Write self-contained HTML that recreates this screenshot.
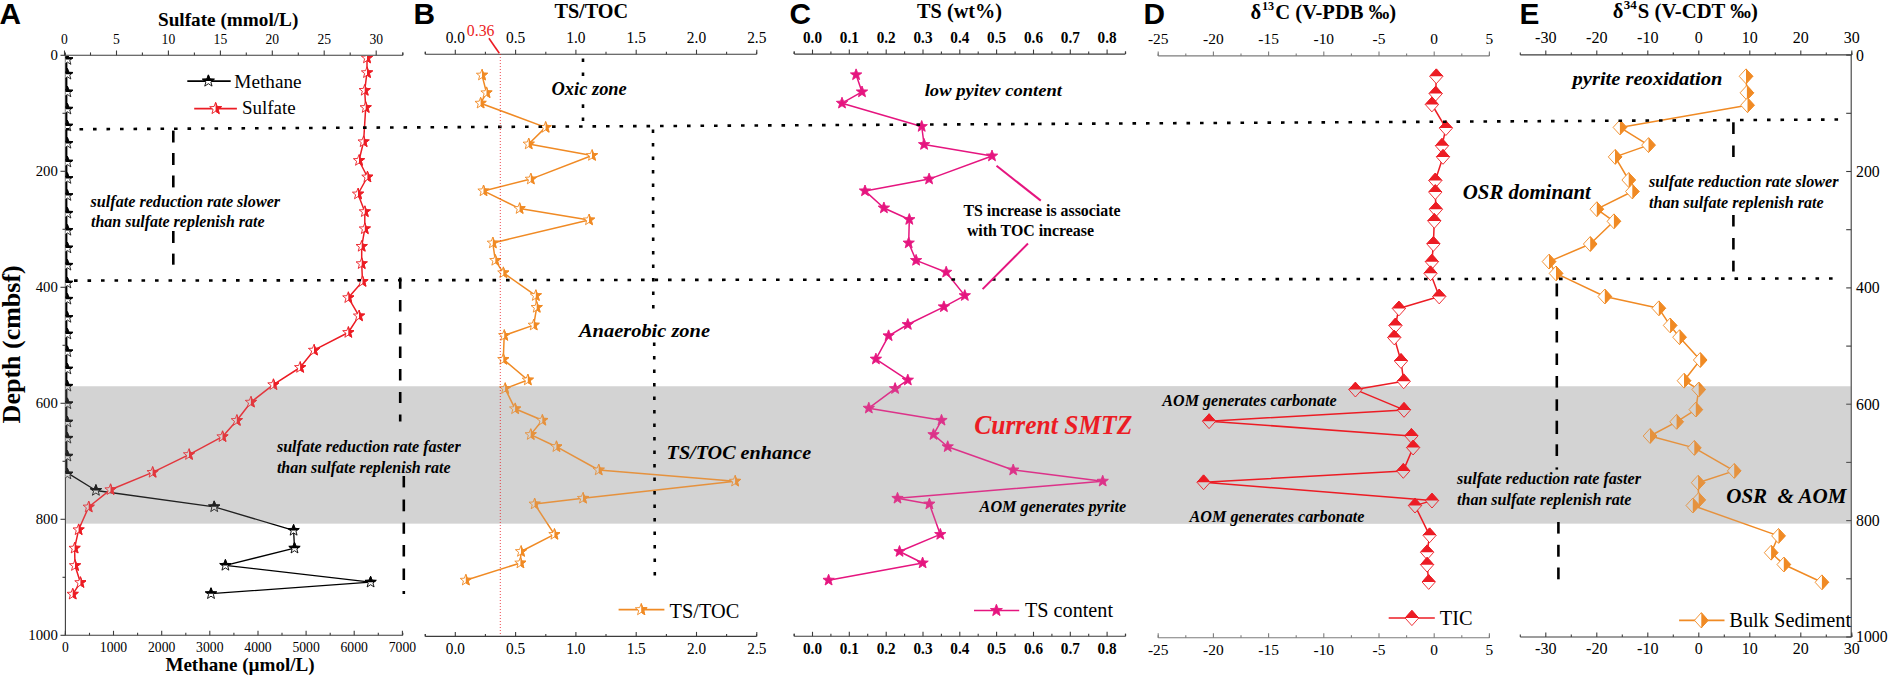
<!DOCTYPE html>
<html><head><meta charset="utf-8"><title>Figure</title>
<style>html,body{margin:0;padding:0;background:#fff;} svg{display:block;} text{white-space:pre;}</style>
</head><body>
<svg width="1890" height="677" viewBox="0 0 1890 677"><rect x="0" y="0" width="1890" height="677" fill="#fff"/>
<rect x="65.5" y="386.3" width="1785.3" height="137.3" fill="#d9d9d9"/>
<rect x="1140" y="386.3" width="360" height="137.3" fill="#d3d3d3"/>
<line x1="65.4" y1="55.3" x2="402.8" y2="55.3" stroke="#3c3c3c" stroke-width="1.1"/>
<line x1="64.5" y1="55.3" x2="64.5" y2="50.5" stroke="#3c3c3c" stroke-width="1.1"/>
<line x1="116.5" y1="55.3" x2="116.5" y2="50.5" stroke="#3c3c3c" stroke-width="1.1"/>
<line x1="168.4" y1="55.3" x2="168.4" y2="50.5" stroke="#3c3c3c" stroke-width="1.1"/>
<line x1="220.4" y1="55.3" x2="220.4" y2="50.5" stroke="#3c3c3c" stroke-width="1.1"/>
<line x1="272.3" y1="55.3" x2="272.3" y2="50.5" stroke="#3c3c3c" stroke-width="1.1"/>
<line x1="324.2" y1="55.3" x2="324.2" y2="50.5" stroke="#3c3c3c" stroke-width="1.1"/>
<line x1="376.2" y1="55.3" x2="376.2" y2="50.5" stroke="#3c3c3c" stroke-width="1.1"/>
<line x1="90.5" y1="55.3" x2="90.5" y2="52.4" stroke="#3c3c3c" stroke-width="1.1"/>
<line x1="142.4" y1="55.3" x2="142.4" y2="52.4" stroke="#3c3c3c" stroke-width="1.1"/>
<line x1="194.4" y1="55.3" x2="194.4" y2="52.4" stroke="#3c3c3c" stroke-width="1.1"/>
<line x1="246.3" y1="55.3" x2="246.3" y2="52.4" stroke="#3c3c3c" stroke-width="1.1"/>
<line x1="298.3" y1="55.3" x2="298.3" y2="52.4" stroke="#3c3c3c" stroke-width="1.1"/>
<line x1="350.2" y1="55.3" x2="350.2" y2="52.4" stroke="#3c3c3c" stroke-width="1.1"/>
<line x1="65.4" y1="55.3" x2="65.4" y2="52.4" stroke="#3c3c3c" stroke-width="1.1"/>
<line x1="402.8" y1="55.3" x2="402.8" y2="52.4" stroke="#3c3c3c" stroke-width="1.1"/>
<line x1="402.8" y1="55.3" x2="402.8" y2="52.6" stroke="#3c3c3c" stroke-width="1.1"/>
<text x="64.5" y="44.0" font-family="'Liberation Serif','Times New Roman',serif" font-size="14.6" font-weight="normal" font-style="normal" fill="#000" text-anchor="middle" textLength="6.8" lengthAdjust="spacingAndGlyphs">0</text>
<text x="116.5" y="44.0" font-family="'Liberation Serif','Times New Roman',serif" font-size="14.6" font-weight="normal" font-style="normal" fill="#000" text-anchor="middle" textLength="6.8" lengthAdjust="spacingAndGlyphs">5</text>
<text x="168.4" y="44.0" font-family="'Liberation Serif','Times New Roman',serif" font-size="14.6" font-weight="normal" font-style="normal" fill="#000" text-anchor="middle" textLength="13.6" lengthAdjust="spacingAndGlyphs">10</text>
<text x="220.4" y="44.0" font-family="'Liberation Serif','Times New Roman',serif" font-size="14.6" font-weight="normal" font-style="normal" fill="#000" text-anchor="middle" textLength="13.6" lengthAdjust="spacingAndGlyphs">15</text>
<text x="272.3" y="44.0" font-family="'Liberation Serif','Times New Roman',serif" font-size="14.6" font-weight="normal" font-style="normal" fill="#000" text-anchor="middle" textLength="13.6" lengthAdjust="spacingAndGlyphs">20</text>
<text x="324.2" y="44.0" font-family="'Liberation Serif','Times New Roman',serif" font-size="14.6" font-weight="normal" font-style="normal" fill="#000" text-anchor="middle" textLength="13.6" lengthAdjust="spacingAndGlyphs">25</text>
<text x="376.2" y="44.0" font-family="'Liberation Serif','Times New Roman',serif" font-size="14.6" font-weight="normal" font-style="normal" fill="#000" text-anchor="middle" textLength="13.6" lengthAdjust="spacingAndGlyphs">30</text>
<line x1="65.4" y1="635.3" x2="402.8" y2="635.3" stroke="#3c3c3c" stroke-width="1.1"/>
<line x1="65.4" y1="635.3" x2="65.4" y2="630.8" stroke="#3c3c3c" stroke-width="1.1"/>
<line x1="113.5" y1="635.3" x2="113.5" y2="630.8" stroke="#3c3c3c" stroke-width="1.1"/>
<line x1="161.7" y1="635.3" x2="161.7" y2="630.8" stroke="#3c3c3c" stroke-width="1.1"/>
<line x1="209.8" y1="635.3" x2="209.8" y2="630.8" stroke="#3c3c3c" stroke-width="1.1"/>
<line x1="258.0" y1="635.3" x2="258.0" y2="630.8" stroke="#3c3c3c" stroke-width="1.1"/>
<line x1="306.1" y1="635.3" x2="306.1" y2="630.8" stroke="#3c3c3c" stroke-width="1.1"/>
<line x1="354.2" y1="635.3" x2="354.2" y2="630.8" stroke="#3c3c3c" stroke-width="1.1"/>
<line x1="402.4" y1="635.3" x2="402.4" y2="630.8" stroke="#3c3c3c" stroke-width="1.1"/>
<line x1="89.5" y1="635.3" x2="89.5" y2="632.8" stroke="#3c3c3c" stroke-width="1.1"/>
<line x1="137.6" y1="635.3" x2="137.6" y2="632.8" stroke="#3c3c3c" stroke-width="1.1"/>
<line x1="185.8" y1="635.3" x2="185.8" y2="632.8" stroke="#3c3c3c" stroke-width="1.1"/>
<line x1="233.9" y1="635.3" x2="233.9" y2="632.8" stroke="#3c3c3c" stroke-width="1.1"/>
<line x1="282.0" y1="635.3" x2="282.0" y2="632.8" stroke="#3c3c3c" stroke-width="1.1"/>
<line x1="330.2" y1="635.3" x2="330.2" y2="632.8" stroke="#3c3c3c" stroke-width="1.1"/>
<line x1="378.3" y1="635.3" x2="378.3" y2="632.8" stroke="#3c3c3c" stroke-width="1.1"/>
<line x1="65.4" y1="635.3" x2="65.4" y2="632.8" stroke="#3c3c3c" stroke-width="1.1"/>
<line x1="402.8" y1="635.3" x2="402.8" y2="632.8" stroke="#3c3c3c" stroke-width="1.1"/>
<text x="65.4" y="652.1" font-family="'Liberation Serif','Times New Roman',serif" font-size="14.8" font-weight="normal" font-style="normal" fill="#000" text-anchor="middle" textLength="6.8" lengthAdjust="spacingAndGlyphs">0</text>
<text x="113.5" y="652.1" font-family="'Liberation Serif','Times New Roman',serif" font-size="14.8" font-weight="normal" font-style="normal" fill="#000" text-anchor="middle" textLength="27.4" lengthAdjust="spacingAndGlyphs">1000</text>
<text x="161.7" y="652.1" font-family="'Liberation Serif','Times New Roman',serif" font-size="14.8" font-weight="normal" font-style="normal" fill="#000" text-anchor="middle" textLength="27.4" lengthAdjust="spacingAndGlyphs">2000</text>
<text x="209.8" y="652.1" font-family="'Liberation Serif','Times New Roman',serif" font-size="14.8" font-weight="normal" font-style="normal" fill="#000" text-anchor="middle" textLength="27.4" lengthAdjust="spacingAndGlyphs">3000</text>
<text x="258.0" y="652.1" font-family="'Liberation Serif','Times New Roman',serif" font-size="14.8" font-weight="normal" font-style="normal" fill="#000" text-anchor="middle" textLength="27.4" lengthAdjust="spacingAndGlyphs">4000</text>
<text x="306.1" y="652.1" font-family="'Liberation Serif','Times New Roman',serif" font-size="14.8" font-weight="normal" font-style="normal" fill="#000" text-anchor="middle" textLength="27.4" lengthAdjust="spacingAndGlyphs">5000</text>
<text x="354.2" y="652.1" font-family="'Liberation Serif','Times New Roman',serif" font-size="14.8" font-weight="normal" font-style="normal" fill="#000" text-anchor="middle" textLength="27.4" lengthAdjust="spacingAndGlyphs">6000</text>
<text x="402.4" y="652.1" font-family="'Liberation Serif','Times New Roman',serif" font-size="14.8" font-weight="normal" font-style="normal" fill="#000" text-anchor="middle" textLength="27.4" lengthAdjust="spacingAndGlyphs">7000</text>
<line x1="65.4" y1="55.3" x2="65.4" y2="635.3" stroke="#3c3c3c" stroke-width="1.1"/>
<line x1="60.5" y1="55.3" x2="65.4" y2="55.3" stroke="#3c3c3c" stroke-width="1.1"/>
<text x="57.8" y="60.2" font-family="'Liberation Serif','Times New Roman',serif" font-size="14.5" font-weight="normal" font-style="normal" fill="#000" text-anchor="end" textLength="7.4" lengthAdjust="spacingAndGlyphs">0</text>
<line x1="60.5" y1="171.3" x2="65.4" y2="171.3" stroke="#3c3c3c" stroke-width="1.1"/>
<text x="57.8" y="176.2" font-family="'Liberation Serif','Times New Roman',serif" font-size="14.5" font-weight="normal" font-style="normal" fill="#000" text-anchor="end" textLength="22.1" lengthAdjust="spacingAndGlyphs">200</text>
<line x1="60.5" y1="287.3" x2="65.4" y2="287.3" stroke="#3c3c3c" stroke-width="1.1"/>
<text x="57.8" y="292.2" font-family="'Liberation Serif','Times New Roman',serif" font-size="14.5" font-weight="normal" font-style="normal" fill="#000" text-anchor="end" textLength="22.1" lengthAdjust="spacingAndGlyphs">400</text>
<line x1="60.5" y1="403.3" x2="65.4" y2="403.3" stroke="#3c3c3c" stroke-width="1.1"/>
<text x="57.8" y="408.2" font-family="'Liberation Serif','Times New Roman',serif" font-size="14.5" font-weight="normal" font-style="normal" fill="#000" text-anchor="end" textLength="22.1" lengthAdjust="spacingAndGlyphs">600</text>
<line x1="60.5" y1="519.3" x2="65.4" y2="519.3" stroke="#3c3c3c" stroke-width="1.1"/>
<text x="57.8" y="524.2" font-family="'Liberation Serif','Times New Roman',serif" font-size="14.5" font-weight="normal" font-style="normal" fill="#000" text-anchor="end" textLength="22.1" lengthAdjust="spacingAndGlyphs">800</text>
<line x1="60.5" y1="635.3" x2="65.4" y2="635.3" stroke="#3c3c3c" stroke-width="1.1"/>
<text x="57.8" y="640.2" font-family="'Liberation Serif','Times New Roman',serif" font-size="14.5" font-weight="normal" font-style="normal" fill="#000" text-anchor="end" textLength="29.5" lengthAdjust="spacingAndGlyphs">1000</text>
<line x1="62.5" y1="113.3" x2="65.4" y2="113.3" stroke="#3c3c3c" stroke-width="1.1"/>
<line x1="62.5" y1="229.3" x2="65.4" y2="229.3" stroke="#3c3c3c" stroke-width="1.1"/>
<line x1="62.5" y1="345.3" x2="65.4" y2="345.3" stroke="#3c3c3c" stroke-width="1.1"/>
<line x1="62.5" y1="461.3" x2="65.4" y2="461.3" stroke="#3c3c3c" stroke-width="1.1"/>
<line x1="62.5" y1="577.3" x2="65.4" y2="577.3" stroke="#3c3c3c" stroke-width="1.1"/>
<line x1="425.4" y1="54.2" x2="756.5" y2="54.2" stroke="#3c3c3c" stroke-width="1.1"/>
<line x1="455.3" y1="54.2" x2="455.3" y2="49.7" stroke="#3c3c3c" stroke-width="1.1"/>
<line x1="515.6" y1="54.2" x2="515.6" y2="49.7" stroke="#3c3c3c" stroke-width="1.1"/>
<line x1="575.9" y1="54.2" x2="575.9" y2="49.7" stroke="#3c3c3c" stroke-width="1.1"/>
<line x1="636.2" y1="54.2" x2="636.2" y2="49.7" stroke="#3c3c3c" stroke-width="1.1"/>
<line x1="696.5" y1="54.2" x2="696.5" y2="49.7" stroke="#3c3c3c" stroke-width="1.1"/>
<line x1="756.8" y1="54.2" x2="756.8" y2="49.7" stroke="#3c3c3c" stroke-width="1.1"/>
<line x1="425.2" y1="54.2" x2="425.2" y2="51.7" stroke="#3c3c3c" stroke-width="1.1"/>
<line x1="485.4" y1="54.2" x2="485.4" y2="51.7" stroke="#3c3c3c" stroke-width="1.1"/>
<line x1="545.8" y1="54.2" x2="545.8" y2="51.7" stroke="#3c3c3c" stroke-width="1.1"/>
<line x1="606.0" y1="54.2" x2="606.0" y2="51.7" stroke="#3c3c3c" stroke-width="1.1"/>
<line x1="666.4" y1="54.2" x2="666.4" y2="51.7" stroke="#3c3c3c" stroke-width="1.1"/>
<line x1="726.6" y1="54.2" x2="726.6" y2="51.7" stroke="#3c3c3c" stroke-width="1.1"/>
<line x1="425.4" y1="54.2" x2="425.4" y2="51.7" stroke="#3c3c3c" stroke-width="1.1"/>
<line x1="756.5" y1="54.2" x2="756.5" y2="51.7" stroke="#3c3c3c" stroke-width="1.1"/>
<line x1="425.4" y1="636.4" x2="756.5" y2="636.4" stroke="#3c3c3c" stroke-width="1.1"/>
<line x1="455.3" y1="636.4" x2="455.3" y2="631.9" stroke="#3c3c3c" stroke-width="1.1"/>
<line x1="515.6" y1="636.4" x2="515.6" y2="631.9" stroke="#3c3c3c" stroke-width="1.1"/>
<line x1="575.9" y1="636.4" x2="575.9" y2="631.9" stroke="#3c3c3c" stroke-width="1.1"/>
<line x1="636.2" y1="636.4" x2="636.2" y2="631.9" stroke="#3c3c3c" stroke-width="1.1"/>
<line x1="696.5" y1="636.4" x2="696.5" y2="631.9" stroke="#3c3c3c" stroke-width="1.1"/>
<line x1="756.8" y1="636.4" x2="756.8" y2="631.9" stroke="#3c3c3c" stroke-width="1.1"/>
<line x1="425.2" y1="636.4" x2="425.2" y2="633.9" stroke="#3c3c3c" stroke-width="1.1"/>
<line x1="485.4" y1="636.4" x2="485.4" y2="633.9" stroke="#3c3c3c" stroke-width="1.1"/>
<line x1="545.8" y1="636.4" x2="545.8" y2="633.9" stroke="#3c3c3c" stroke-width="1.1"/>
<line x1="606.0" y1="636.4" x2="606.0" y2="633.9" stroke="#3c3c3c" stroke-width="1.1"/>
<line x1="666.4" y1="636.4" x2="666.4" y2="633.9" stroke="#3c3c3c" stroke-width="1.1"/>
<line x1="726.6" y1="636.4" x2="726.6" y2="633.9" stroke="#3c3c3c" stroke-width="1.1"/>
<line x1="425.4" y1="636.4" x2="425.4" y2="633.9" stroke="#3c3c3c" stroke-width="1.1"/>
<line x1="756.5" y1="636.4" x2="756.5" y2="633.9" stroke="#3c3c3c" stroke-width="1.1"/>
<text x="455.3" y="42.7" font-family="'Liberation Serif','Times New Roman',serif" font-size="16.5" font-weight="normal" font-style="normal" fill="#000" text-anchor="middle" textLength="19.3" lengthAdjust="spacingAndGlyphs">0.0</text>
<text x="455.3" y="653.5" font-family="'Liberation Serif','Times New Roman',serif" font-size="16" font-weight="normal" font-style="normal" fill="#000" text-anchor="middle" textLength="19.1" lengthAdjust="spacingAndGlyphs">0.0</text>
<text x="515.6" y="42.7" font-family="'Liberation Serif','Times New Roman',serif" font-size="16.5" font-weight="normal" font-style="normal" fill="#000" text-anchor="middle" textLength="19.3" lengthAdjust="spacingAndGlyphs">0.5</text>
<text x="515.6" y="653.5" font-family="'Liberation Serif','Times New Roman',serif" font-size="16" font-weight="normal" font-style="normal" fill="#000" text-anchor="middle" textLength="19.1" lengthAdjust="spacingAndGlyphs">0.5</text>
<text x="575.9" y="42.7" font-family="'Liberation Serif','Times New Roman',serif" font-size="16.5" font-weight="normal" font-style="normal" fill="#000" text-anchor="middle" textLength="19.3" lengthAdjust="spacingAndGlyphs">1.0</text>
<text x="575.9" y="653.5" font-family="'Liberation Serif','Times New Roman',serif" font-size="16" font-weight="normal" font-style="normal" fill="#000" text-anchor="middle" textLength="19.1" lengthAdjust="spacingAndGlyphs">1.0</text>
<text x="636.2" y="42.7" font-family="'Liberation Serif','Times New Roman',serif" font-size="16.5" font-weight="normal" font-style="normal" fill="#000" text-anchor="middle" textLength="19.3" lengthAdjust="spacingAndGlyphs">1.5</text>
<text x="636.2" y="653.5" font-family="'Liberation Serif','Times New Roman',serif" font-size="16" font-weight="normal" font-style="normal" fill="#000" text-anchor="middle" textLength="19.1" lengthAdjust="spacingAndGlyphs">1.5</text>
<text x="696.5" y="42.7" font-family="'Liberation Serif','Times New Roman',serif" font-size="16.5" font-weight="normal" font-style="normal" fill="#000" text-anchor="middle" textLength="19.3" lengthAdjust="spacingAndGlyphs">2.0</text>
<text x="696.5" y="653.5" font-family="'Liberation Serif','Times New Roman',serif" font-size="16" font-weight="normal" font-style="normal" fill="#000" text-anchor="middle" textLength="19.1" lengthAdjust="spacingAndGlyphs">2.0</text>
<text x="756.8" y="42.7" font-family="'Liberation Serif','Times New Roman',serif" font-size="16.5" font-weight="normal" font-style="normal" fill="#000" text-anchor="middle" textLength="19.3" lengthAdjust="spacingAndGlyphs">2.5</text>
<text x="756.8" y="653.5" font-family="'Liberation Serif','Times New Roman',serif" font-size="16" font-weight="normal" font-style="normal" fill="#000" text-anchor="middle" textLength="19.1" lengthAdjust="spacingAndGlyphs">2.5</text>
<line x1="794.3" y1="54.1" x2="1125.4" y2="54.1" stroke="#3c3c3c" stroke-width="1.1"/>
<line x1="812.5" y1="54.1" x2="812.5" y2="49.6" stroke="#3c3c3c" stroke-width="1.1"/>
<line x1="849.3" y1="54.1" x2="849.3" y2="49.6" stroke="#3c3c3c" stroke-width="1.1"/>
<line x1="886.2" y1="54.1" x2="886.2" y2="49.6" stroke="#3c3c3c" stroke-width="1.1"/>
<line x1="923.0" y1="54.1" x2="923.0" y2="49.6" stroke="#3c3c3c" stroke-width="1.1"/>
<line x1="959.8" y1="54.1" x2="959.8" y2="49.6" stroke="#3c3c3c" stroke-width="1.1"/>
<line x1="996.6" y1="54.1" x2="996.6" y2="49.6" stroke="#3c3c3c" stroke-width="1.1"/>
<line x1="1033.5" y1="54.1" x2="1033.5" y2="49.6" stroke="#3c3c3c" stroke-width="1.1"/>
<line x1="1070.3" y1="54.1" x2="1070.3" y2="49.6" stroke="#3c3c3c" stroke-width="1.1"/>
<line x1="1107.1" y1="54.1" x2="1107.1" y2="49.6" stroke="#3c3c3c" stroke-width="1.1"/>
<line x1="794.1" y1="54.1" x2="794.1" y2="51.6" stroke="#3c3c3c" stroke-width="1.1"/>
<line x1="830.9" y1="54.1" x2="830.9" y2="51.6" stroke="#3c3c3c" stroke-width="1.1"/>
<line x1="867.7" y1="54.1" x2="867.7" y2="51.6" stroke="#3c3c3c" stroke-width="1.1"/>
<line x1="904.6" y1="54.1" x2="904.6" y2="51.6" stroke="#3c3c3c" stroke-width="1.1"/>
<line x1="941.4" y1="54.1" x2="941.4" y2="51.6" stroke="#3c3c3c" stroke-width="1.1"/>
<line x1="978.2" y1="54.1" x2="978.2" y2="51.6" stroke="#3c3c3c" stroke-width="1.1"/>
<line x1="1015.1" y1="54.1" x2="1015.1" y2="51.6" stroke="#3c3c3c" stroke-width="1.1"/>
<line x1="1051.9" y1="54.1" x2="1051.9" y2="51.6" stroke="#3c3c3c" stroke-width="1.1"/>
<line x1="1088.7" y1="54.1" x2="1088.7" y2="51.6" stroke="#3c3c3c" stroke-width="1.1"/>
<line x1="1125.6" y1="54.1" x2="1125.6" y2="51.6" stroke="#3c3c3c" stroke-width="1.1"/>
<line x1="794.3" y1="54.1" x2="794.3" y2="51.6" stroke="#3c3c3c" stroke-width="1.1"/>
<line x1="1125.4" y1="54.1" x2="1125.4" y2="51.6" stroke="#3c3c3c" stroke-width="1.1"/>
<line x1="794.3" y1="636.3" x2="1125.4" y2="636.3" stroke="#3c3c3c" stroke-width="1.1"/>
<line x1="812.5" y1="636.3" x2="812.5" y2="631.8" stroke="#3c3c3c" stroke-width="1.1"/>
<line x1="849.3" y1="636.3" x2="849.3" y2="631.8" stroke="#3c3c3c" stroke-width="1.1"/>
<line x1="886.2" y1="636.3" x2="886.2" y2="631.8" stroke="#3c3c3c" stroke-width="1.1"/>
<line x1="923.0" y1="636.3" x2="923.0" y2="631.8" stroke="#3c3c3c" stroke-width="1.1"/>
<line x1="959.8" y1="636.3" x2="959.8" y2="631.8" stroke="#3c3c3c" stroke-width="1.1"/>
<line x1="996.6" y1="636.3" x2="996.6" y2="631.8" stroke="#3c3c3c" stroke-width="1.1"/>
<line x1="1033.5" y1="636.3" x2="1033.5" y2="631.8" stroke="#3c3c3c" stroke-width="1.1"/>
<line x1="1070.3" y1="636.3" x2="1070.3" y2="631.8" stroke="#3c3c3c" stroke-width="1.1"/>
<line x1="1107.1" y1="636.3" x2="1107.1" y2="631.8" stroke="#3c3c3c" stroke-width="1.1"/>
<line x1="794.1" y1="636.3" x2="794.1" y2="633.8" stroke="#3c3c3c" stroke-width="1.1"/>
<line x1="830.9" y1="636.3" x2="830.9" y2="633.8" stroke="#3c3c3c" stroke-width="1.1"/>
<line x1="867.7" y1="636.3" x2="867.7" y2="633.8" stroke="#3c3c3c" stroke-width="1.1"/>
<line x1="904.6" y1="636.3" x2="904.6" y2="633.8" stroke="#3c3c3c" stroke-width="1.1"/>
<line x1="941.4" y1="636.3" x2="941.4" y2="633.8" stroke="#3c3c3c" stroke-width="1.1"/>
<line x1="978.2" y1="636.3" x2="978.2" y2="633.8" stroke="#3c3c3c" stroke-width="1.1"/>
<line x1="1015.1" y1="636.3" x2="1015.1" y2="633.8" stroke="#3c3c3c" stroke-width="1.1"/>
<line x1="1051.9" y1="636.3" x2="1051.9" y2="633.8" stroke="#3c3c3c" stroke-width="1.1"/>
<line x1="1088.7" y1="636.3" x2="1088.7" y2="633.8" stroke="#3c3c3c" stroke-width="1.1"/>
<line x1="1125.6" y1="636.3" x2="1125.6" y2="633.8" stroke="#3c3c3c" stroke-width="1.1"/>
<line x1="794.3" y1="636.3" x2="794.3" y2="633.8" stroke="#3c3c3c" stroke-width="1.1"/>
<line x1="1125.4" y1="636.3" x2="1125.4" y2="633.8" stroke="#3c3c3c" stroke-width="1.1"/>
<text x="812.5" y="42.7" font-family="'Liberation Serif','Times New Roman',serif" font-size="16.5" font-weight="bold" font-style="normal" fill="#000" text-anchor="middle" textLength="19.0" lengthAdjust="spacingAndGlyphs">0.0</text>
<text x="812.5" y="653.8" font-family="'Liberation Serif','Times New Roman',serif" font-size="16" font-weight="bold" font-style="normal" fill="#000" text-anchor="middle" textLength="19.0" lengthAdjust="spacingAndGlyphs">0.0</text>
<text x="849.3" y="42.7" font-family="'Liberation Serif','Times New Roman',serif" font-size="16.5" font-weight="bold" font-style="normal" fill="#000" text-anchor="middle" textLength="19.0" lengthAdjust="spacingAndGlyphs">0.1</text>
<text x="849.3" y="653.8" font-family="'Liberation Serif','Times New Roman',serif" font-size="16" font-weight="bold" font-style="normal" fill="#000" text-anchor="middle" textLength="19.0" lengthAdjust="spacingAndGlyphs">0.1</text>
<text x="886.2" y="42.7" font-family="'Liberation Serif','Times New Roman',serif" font-size="16.5" font-weight="bold" font-style="normal" fill="#000" text-anchor="middle" textLength="19.0" lengthAdjust="spacingAndGlyphs">0.2</text>
<text x="886.2" y="653.8" font-family="'Liberation Serif','Times New Roman',serif" font-size="16" font-weight="bold" font-style="normal" fill="#000" text-anchor="middle" textLength="19.0" lengthAdjust="spacingAndGlyphs">0.2</text>
<text x="923.0" y="42.7" font-family="'Liberation Serif','Times New Roman',serif" font-size="16.5" font-weight="bold" font-style="normal" fill="#000" text-anchor="middle" textLength="19.0" lengthAdjust="spacingAndGlyphs">0.3</text>
<text x="923.0" y="653.8" font-family="'Liberation Serif','Times New Roman',serif" font-size="16" font-weight="bold" font-style="normal" fill="#000" text-anchor="middle" textLength="19.0" lengthAdjust="spacingAndGlyphs">0.3</text>
<text x="959.8" y="42.7" font-family="'Liberation Serif','Times New Roman',serif" font-size="16.5" font-weight="bold" font-style="normal" fill="#000" text-anchor="middle" textLength="19.0" lengthAdjust="spacingAndGlyphs">0.4</text>
<text x="959.8" y="653.8" font-family="'Liberation Serif','Times New Roman',serif" font-size="16" font-weight="bold" font-style="normal" fill="#000" text-anchor="middle" textLength="19.0" lengthAdjust="spacingAndGlyphs">0.4</text>
<text x="996.6" y="42.7" font-family="'Liberation Serif','Times New Roman',serif" font-size="16.5" font-weight="bold" font-style="normal" fill="#000" text-anchor="middle" textLength="19.0" lengthAdjust="spacingAndGlyphs">0.5</text>
<text x="996.6" y="653.8" font-family="'Liberation Serif','Times New Roman',serif" font-size="16" font-weight="bold" font-style="normal" fill="#000" text-anchor="middle" textLength="19.0" lengthAdjust="spacingAndGlyphs">0.5</text>
<text x="1033.5" y="42.7" font-family="'Liberation Serif','Times New Roman',serif" font-size="16.5" font-weight="bold" font-style="normal" fill="#000" text-anchor="middle" textLength="19.0" lengthAdjust="spacingAndGlyphs">0.6</text>
<text x="1033.5" y="653.8" font-family="'Liberation Serif','Times New Roman',serif" font-size="16" font-weight="bold" font-style="normal" fill="#000" text-anchor="middle" textLength="19.0" lengthAdjust="spacingAndGlyphs">0.6</text>
<text x="1070.3" y="42.7" font-family="'Liberation Serif','Times New Roman',serif" font-size="16.5" font-weight="bold" font-style="normal" fill="#000" text-anchor="middle" textLength="19.0" lengthAdjust="spacingAndGlyphs">0.7</text>
<text x="1070.3" y="653.8" font-family="'Liberation Serif','Times New Roman',serif" font-size="16" font-weight="bold" font-style="normal" fill="#000" text-anchor="middle" textLength="19.0" lengthAdjust="spacingAndGlyphs">0.7</text>
<text x="1107.1" y="42.7" font-family="'Liberation Serif','Times New Roman',serif" font-size="16.5" font-weight="bold" font-style="normal" fill="#000" text-anchor="middle" textLength="19.0" lengthAdjust="spacingAndGlyphs">0.8</text>
<text x="1107.1" y="653.8" font-family="'Liberation Serif','Times New Roman',serif" font-size="16" font-weight="bold" font-style="normal" fill="#000" text-anchor="middle" textLength="19.0" lengthAdjust="spacingAndGlyphs">0.8</text>
<line x1="1158.2" y1="55.9" x2="1489.4" y2="55.9" stroke="#7c7c7c" stroke-width="1.1"/>
<line x1="1158.2" y1="55.9" x2="1158.2" y2="51.4" stroke="#7c7c7c" stroke-width="1.1"/>
<line x1="1213.4" y1="55.9" x2="1213.4" y2="51.4" stroke="#7c7c7c" stroke-width="1.1"/>
<line x1="1268.6" y1="55.9" x2="1268.6" y2="51.4" stroke="#7c7c7c" stroke-width="1.1"/>
<line x1="1323.8" y1="55.9" x2="1323.8" y2="51.4" stroke="#7c7c7c" stroke-width="1.1"/>
<line x1="1379.0" y1="55.9" x2="1379.0" y2="51.4" stroke="#7c7c7c" stroke-width="1.1"/>
<line x1="1434.2" y1="55.9" x2="1434.2" y2="51.4" stroke="#7c7c7c" stroke-width="1.1"/>
<line x1="1489.4" y1="55.9" x2="1489.4" y2="51.4" stroke="#7c7c7c" stroke-width="1.1"/>
<line x1="1185.8" y1="55.9" x2="1185.8" y2="53.4" stroke="#7c7c7c" stroke-width="1.1"/>
<line x1="1241.0" y1="55.9" x2="1241.0" y2="53.4" stroke="#7c7c7c" stroke-width="1.1"/>
<line x1="1296.2" y1="55.9" x2="1296.2" y2="53.4" stroke="#7c7c7c" stroke-width="1.1"/>
<line x1="1351.4" y1="55.9" x2="1351.4" y2="53.4" stroke="#7c7c7c" stroke-width="1.1"/>
<line x1="1406.6" y1="55.9" x2="1406.6" y2="53.4" stroke="#7c7c7c" stroke-width="1.1"/>
<line x1="1461.8" y1="55.9" x2="1461.8" y2="53.4" stroke="#7c7c7c" stroke-width="1.1"/>
<line x1="1158.2" y1="55.9" x2="1158.2" y2="53.4" stroke="#7c7c7c" stroke-width="1.1"/>
<line x1="1489.4" y1="55.9" x2="1489.4" y2="53.4" stroke="#7c7c7c" stroke-width="1.1"/>
<line x1="1158.2" y1="637.7" x2="1489.4" y2="637.7" stroke="#7c7c7c" stroke-width="1.1"/>
<line x1="1158.2" y1="637.7" x2="1158.2" y2="633.2" stroke="#7c7c7c" stroke-width="1.1"/>
<line x1="1213.4" y1="637.7" x2="1213.4" y2="633.2" stroke="#7c7c7c" stroke-width="1.1"/>
<line x1="1268.6" y1="637.7" x2="1268.6" y2="633.2" stroke="#7c7c7c" stroke-width="1.1"/>
<line x1="1323.8" y1="637.7" x2="1323.8" y2="633.2" stroke="#7c7c7c" stroke-width="1.1"/>
<line x1="1379.0" y1="637.7" x2="1379.0" y2="633.2" stroke="#7c7c7c" stroke-width="1.1"/>
<line x1="1434.2" y1="637.7" x2="1434.2" y2="633.2" stroke="#7c7c7c" stroke-width="1.1"/>
<line x1="1489.4" y1="637.7" x2="1489.4" y2="633.2" stroke="#7c7c7c" stroke-width="1.1"/>
<line x1="1185.8" y1="637.7" x2="1185.8" y2="635.2" stroke="#7c7c7c" stroke-width="1.1"/>
<line x1="1241.0" y1="637.7" x2="1241.0" y2="635.2" stroke="#7c7c7c" stroke-width="1.1"/>
<line x1="1296.2" y1="637.7" x2="1296.2" y2="635.2" stroke="#7c7c7c" stroke-width="1.1"/>
<line x1="1351.4" y1="637.7" x2="1351.4" y2="635.2" stroke="#7c7c7c" stroke-width="1.1"/>
<line x1="1406.6" y1="637.7" x2="1406.6" y2="635.2" stroke="#7c7c7c" stroke-width="1.1"/>
<line x1="1461.8" y1="637.7" x2="1461.8" y2="635.2" stroke="#7c7c7c" stroke-width="1.1"/>
<line x1="1158.2" y1="637.7" x2="1158.2" y2="635.2" stroke="#7c7c7c" stroke-width="1.1"/>
<line x1="1489.4" y1="637.7" x2="1489.4" y2="635.2" stroke="#7c7c7c" stroke-width="1.1"/>
<text x="1158.2" y="43.7" font-family="'Liberation Serif','Times New Roman',serif" font-size="15.6" font-weight="normal" font-style="normal" fill="#000" text-anchor="middle" textLength="20.6" lengthAdjust="spacingAndGlyphs">-25</text>
<text x="1158.2" y="655.2" font-family="'Liberation Serif','Times New Roman',serif" font-size="15.6" font-weight="normal" font-style="normal" fill="#000" text-anchor="middle" textLength="20.6" lengthAdjust="spacingAndGlyphs">-25</text>
<text x="1213.4" y="43.7" font-family="'Liberation Serif','Times New Roman',serif" font-size="15.6" font-weight="normal" font-style="normal" fill="#000" text-anchor="middle" textLength="20.6" lengthAdjust="spacingAndGlyphs">-20</text>
<text x="1213.4" y="655.2" font-family="'Liberation Serif','Times New Roman',serif" font-size="15.6" font-weight="normal" font-style="normal" fill="#000" text-anchor="middle" textLength="20.6" lengthAdjust="spacingAndGlyphs">-20</text>
<text x="1268.6" y="43.7" font-family="'Liberation Serif','Times New Roman',serif" font-size="15.6" font-weight="normal" font-style="normal" fill="#000" text-anchor="middle" textLength="20.6" lengthAdjust="spacingAndGlyphs">-15</text>
<text x="1268.6" y="655.2" font-family="'Liberation Serif','Times New Roman',serif" font-size="15.6" font-weight="normal" font-style="normal" fill="#000" text-anchor="middle" textLength="20.6" lengthAdjust="spacingAndGlyphs">-15</text>
<text x="1323.8" y="43.7" font-family="'Liberation Serif','Times New Roman',serif" font-size="15.6" font-weight="normal" font-style="normal" fill="#000" text-anchor="middle" textLength="20.6" lengthAdjust="spacingAndGlyphs">-10</text>
<text x="1323.8" y="655.2" font-family="'Liberation Serif','Times New Roman',serif" font-size="15.6" font-weight="normal" font-style="normal" fill="#000" text-anchor="middle" textLength="20.6" lengthAdjust="spacingAndGlyphs">-10</text>
<text x="1379.0" y="43.7" font-family="'Liberation Serif','Times New Roman',serif" font-size="15.6" font-weight="normal" font-style="normal" fill="#000" text-anchor="middle" textLength="12.9" lengthAdjust="spacingAndGlyphs">-5</text>
<text x="1379.0" y="655.2" font-family="'Liberation Serif','Times New Roman',serif" font-size="15.6" font-weight="normal" font-style="normal" fill="#000" text-anchor="middle" textLength="12.9" lengthAdjust="spacingAndGlyphs">-5</text>
<text x="1434.2" y="43.7" font-family="'Liberation Serif','Times New Roman',serif" font-size="15.6" font-weight="normal" font-style="normal" fill="#000" text-anchor="middle" textLength="7.7" lengthAdjust="spacingAndGlyphs">0</text>
<text x="1434.2" y="655.2" font-family="'Liberation Serif','Times New Roman',serif" font-size="15.6" font-weight="normal" font-style="normal" fill="#000" text-anchor="middle" textLength="7.7" lengthAdjust="spacingAndGlyphs">0</text>
<text x="1489.4" y="43.7" font-family="'Liberation Serif','Times New Roman',serif" font-size="15.6" font-weight="normal" font-style="normal" fill="#000" text-anchor="middle" textLength="7.7" lengthAdjust="spacingAndGlyphs">5</text>
<text x="1489.4" y="655.2" font-family="'Liberation Serif','Times New Roman',serif" font-size="15.6" font-weight="normal" font-style="normal" fill="#000" text-anchor="middle" textLength="7.7" lengthAdjust="spacingAndGlyphs">5</text>
<line x1="1520.3" y1="54.9" x2="1851.8" y2="54.9" stroke="#3c3c3c" stroke-width="1.1"/>
<line x1="1545.8" y1="54.9" x2="1545.8" y2="50.4" stroke="#3c3c3c" stroke-width="1.1"/>
<line x1="1596.8" y1="54.9" x2="1596.8" y2="50.4" stroke="#3c3c3c" stroke-width="1.1"/>
<line x1="1647.8" y1="54.9" x2="1647.8" y2="50.4" stroke="#3c3c3c" stroke-width="1.1"/>
<line x1="1698.8" y1="54.9" x2="1698.8" y2="50.4" stroke="#3c3c3c" stroke-width="1.1"/>
<line x1="1749.8" y1="54.9" x2="1749.8" y2="50.4" stroke="#3c3c3c" stroke-width="1.1"/>
<line x1="1800.8" y1="54.9" x2="1800.8" y2="50.4" stroke="#3c3c3c" stroke-width="1.1"/>
<line x1="1851.8" y1="54.9" x2="1851.8" y2="50.4" stroke="#3c3c3c" stroke-width="1.1"/>
<line x1="1571.3" y1="54.9" x2="1571.3" y2="52.4" stroke="#3c3c3c" stroke-width="1.1"/>
<line x1="1622.3" y1="54.9" x2="1622.3" y2="52.4" stroke="#3c3c3c" stroke-width="1.1"/>
<line x1="1673.3" y1="54.9" x2="1673.3" y2="52.4" stroke="#3c3c3c" stroke-width="1.1"/>
<line x1="1724.3" y1="54.9" x2="1724.3" y2="52.4" stroke="#3c3c3c" stroke-width="1.1"/>
<line x1="1775.3" y1="54.9" x2="1775.3" y2="52.4" stroke="#3c3c3c" stroke-width="1.1"/>
<line x1="1826.3" y1="54.9" x2="1826.3" y2="52.4" stroke="#3c3c3c" stroke-width="1.1"/>
<line x1="1520.3" y1="54.9" x2="1520.3" y2="52.4" stroke="#3c3c3c" stroke-width="1.1"/>
<line x1="1851.8" y1="54.9" x2="1851.8" y2="52.4" stroke="#3c3c3c" stroke-width="1.1"/>
<line x1="1520.3" y1="637.0" x2="1851.8" y2="637.0" stroke="#3c3c3c" stroke-width="1.1"/>
<line x1="1545.8" y1="637.0" x2="1545.8" y2="632.5" stroke="#3c3c3c" stroke-width="1.1"/>
<line x1="1596.8" y1="637.0" x2="1596.8" y2="632.5" stroke="#3c3c3c" stroke-width="1.1"/>
<line x1="1647.8" y1="637.0" x2="1647.8" y2="632.5" stroke="#3c3c3c" stroke-width="1.1"/>
<line x1="1698.8" y1="637.0" x2="1698.8" y2="632.5" stroke="#3c3c3c" stroke-width="1.1"/>
<line x1="1749.8" y1="637.0" x2="1749.8" y2="632.5" stroke="#3c3c3c" stroke-width="1.1"/>
<line x1="1800.8" y1="637.0" x2="1800.8" y2="632.5" stroke="#3c3c3c" stroke-width="1.1"/>
<line x1="1851.8" y1="637.0" x2="1851.8" y2="632.5" stroke="#3c3c3c" stroke-width="1.1"/>
<line x1="1571.3" y1="637.0" x2="1571.3" y2="634.5" stroke="#3c3c3c" stroke-width="1.1"/>
<line x1="1622.3" y1="637.0" x2="1622.3" y2="634.5" stroke="#3c3c3c" stroke-width="1.1"/>
<line x1="1673.3" y1="637.0" x2="1673.3" y2="634.5" stroke="#3c3c3c" stroke-width="1.1"/>
<line x1="1724.3" y1="637.0" x2="1724.3" y2="634.5" stroke="#3c3c3c" stroke-width="1.1"/>
<line x1="1775.3" y1="637.0" x2="1775.3" y2="634.5" stroke="#3c3c3c" stroke-width="1.1"/>
<line x1="1826.3" y1="637.0" x2="1826.3" y2="634.5" stroke="#3c3c3c" stroke-width="1.1"/>
<line x1="1520.3" y1="637.0" x2="1520.3" y2="634.5" stroke="#3c3c3c" stroke-width="1.1"/>
<line x1="1851.8" y1="637.0" x2="1851.8" y2="634.5" stroke="#3c3c3c" stroke-width="1.1"/>
<text x="1545.8" y="43.3" font-family="'Liberation Serif','Times New Roman',serif" font-size="16" font-weight="normal" font-style="normal" fill="#000" text-anchor="middle" textLength="21.5" lengthAdjust="spacingAndGlyphs">-30</text>
<text x="1545.8" y="654.3" font-family="'Liberation Serif','Times New Roman',serif" font-size="16" font-weight="normal" font-style="normal" fill="#000" text-anchor="middle" textLength="21.5" lengthAdjust="spacingAndGlyphs">-30</text>
<text x="1596.8" y="43.3" font-family="'Liberation Serif','Times New Roman',serif" font-size="16" font-weight="normal" font-style="normal" fill="#000" text-anchor="middle" textLength="21.5" lengthAdjust="spacingAndGlyphs">-20</text>
<text x="1596.8" y="654.3" font-family="'Liberation Serif','Times New Roman',serif" font-size="16" font-weight="normal" font-style="normal" fill="#000" text-anchor="middle" textLength="21.5" lengthAdjust="spacingAndGlyphs">-20</text>
<text x="1647.8" y="43.3" font-family="'Liberation Serif','Times New Roman',serif" font-size="16" font-weight="normal" font-style="normal" fill="#000" text-anchor="middle" textLength="21.5" lengthAdjust="spacingAndGlyphs">-10</text>
<text x="1647.8" y="654.3" font-family="'Liberation Serif','Times New Roman',serif" font-size="16" font-weight="normal" font-style="normal" fill="#000" text-anchor="middle" textLength="21.5" lengthAdjust="spacingAndGlyphs">-10</text>
<text x="1698.8" y="43.3" font-family="'Liberation Serif','Times New Roman',serif" font-size="16" font-weight="normal" font-style="normal" fill="#000" text-anchor="middle" textLength="8.0" lengthAdjust="spacingAndGlyphs">0</text>
<text x="1698.8" y="654.3" font-family="'Liberation Serif','Times New Roman',serif" font-size="16" font-weight="normal" font-style="normal" fill="#000" text-anchor="middle" textLength="8.0" lengthAdjust="spacingAndGlyphs">0</text>
<text x="1749.8" y="43.3" font-family="'Liberation Serif','Times New Roman',serif" font-size="16" font-weight="normal" font-style="normal" fill="#000" text-anchor="middle" textLength="16.0" lengthAdjust="spacingAndGlyphs">10</text>
<text x="1749.8" y="654.3" font-family="'Liberation Serif','Times New Roman',serif" font-size="16" font-weight="normal" font-style="normal" fill="#000" text-anchor="middle" textLength="16.0" lengthAdjust="spacingAndGlyphs">10</text>
<text x="1800.8" y="43.3" font-family="'Liberation Serif','Times New Roman',serif" font-size="16" font-weight="normal" font-style="normal" fill="#000" text-anchor="middle" textLength="16.0" lengthAdjust="spacingAndGlyphs">20</text>
<text x="1800.8" y="654.3" font-family="'Liberation Serif','Times New Roman',serif" font-size="16" font-weight="normal" font-style="normal" fill="#000" text-anchor="middle" textLength="16.0" lengthAdjust="spacingAndGlyphs">20</text>
<text x="1851.8" y="43.3" font-family="'Liberation Serif','Times New Roman',serif" font-size="16" font-weight="normal" font-style="normal" fill="#000" text-anchor="middle" textLength="16.0" lengthAdjust="spacingAndGlyphs">30</text>
<text x="1851.8" y="654.3" font-family="'Liberation Serif','Times New Roman',serif" font-size="16" font-weight="normal" font-style="normal" fill="#000" text-anchor="middle" textLength="16.0" lengthAdjust="spacingAndGlyphs">30</text>
<line x1="1851.2" y1="55.1" x2="1851.2" y2="637.0" stroke="#3c3c3c" stroke-width="1.1"/>
<line x1="1846.2" y1="55.1" x2="1851.2" y2="55.1" stroke="#3c3c3c" stroke-width="1.1"/>
<line x1="1846.2" y1="113.3" x2="1851.2" y2="113.3" stroke="#3c3c3c" stroke-width="1.1"/>
<line x1="1846.2" y1="171.5" x2="1851.2" y2="171.5" stroke="#3c3c3c" stroke-width="1.1"/>
<line x1="1846.2" y1="229.7" x2="1851.2" y2="229.7" stroke="#3c3c3c" stroke-width="1.1"/>
<line x1="1846.2" y1="287.9" x2="1851.2" y2="287.9" stroke="#3c3c3c" stroke-width="1.1"/>
<line x1="1846.2" y1="346.1" x2="1851.2" y2="346.1" stroke="#3c3c3c" stroke-width="1.1"/>
<line x1="1846.2" y1="404.2" x2="1851.2" y2="404.2" stroke="#3c3c3c" stroke-width="1.1"/>
<line x1="1846.2" y1="462.4" x2="1851.2" y2="462.4" stroke="#3c3c3c" stroke-width="1.1"/>
<line x1="1846.2" y1="520.6" x2="1851.2" y2="520.6" stroke="#3c3c3c" stroke-width="1.1"/>
<line x1="1846.2" y1="578.8" x2="1851.2" y2="578.8" stroke="#3c3c3c" stroke-width="1.1"/>
<line x1="1846.2" y1="637.0" x2="1851.2" y2="637.0" stroke="#3c3c3c" stroke-width="1.1"/>
<text x="1856.0" y="60.5" font-family="'Liberation Serif','Times New Roman',serif" font-size="16" font-weight="normal" font-style="normal" fill="#000" text-anchor="start" textLength="7.9" lengthAdjust="spacingAndGlyphs">0</text>
<text x="1856.0" y="176.9" font-family="'Liberation Serif','Times New Roman',serif" font-size="16" font-weight="normal" font-style="normal" fill="#000" text-anchor="start" textLength="23.7" lengthAdjust="spacingAndGlyphs">200</text>
<text x="1856.0" y="293.3" font-family="'Liberation Serif','Times New Roman',serif" font-size="16" font-weight="normal" font-style="normal" fill="#000" text-anchor="start" textLength="23.7" lengthAdjust="spacingAndGlyphs">400</text>
<text x="1856.0" y="409.6" font-family="'Liberation Serif','Times New Roman',serif" font-size="16" font-weight="normal" font-style="normal" fill="#000" text-anchor="start" textLength="23.7" lengthAdjust="spacingAndGlyphs">600</text>
<text x="1856.0" y="526.0" font-family="'Liberation Serif','Times New Roman',serif" font-size="16" font-weight="normal" font-style="normal" fill="#000" text-anchor="start" textLength="23.7" lengthAdjust="spacingAndGlyphs">800</text>
<text x="1856.0" y="642.4" font-family="'Liberation Serif','Times New Roman',serif" font-size="16" font-weight="normal" font-style="normal" fill="#000" text-anchor="start" textLength="31.6" lengthAdjust="spacingAndGlyphs">1000</text>
<text x="-0.6" y="23.9" font-family="'Liberation Sans',Arial,sans-serif" font-size="29.8" font-weight="bold" font-style="normal" fill="#000" text-anchor="start">A</text>
<text x="413.6" y="23.9" font-family="'Liberation Sans',Arial,sans-serif" font-size="29.8" font-weight="bold" font-style="normal" fill="#000" text-anchor="start">B</text>
<text x="789.6" y="24.0" font-family="'Liberation Sans',Arial,sans-serif" font-size="29.8" font-weight="bold" font-style="normal" fill="#000" text-anchor="start">C</text>
<text x="1143.6" y="23.6" font-family="'Liberation Sans',Arial,sans-serif" font-size="29.8" font-weight="bold" font-style="normal" fill="#000" text-anchor="start">D</text>
<text x="1519.4" y="24.2" font-family="'Liberation Sans',Arial,sans-serif" font-size="29.8" font-weight="bold" font-style="normal" fill="#000" text-anchor="start">E</text>
<text x="158.0" y="26.0" font-family="'Liberation Serif','Times New Roman',serif" font-size="19.5" font-weight="bold" font-style="normal" fill="#000" text-anchor="start" textLength="140.3" lengthAdjust="spacingAndGlyphs">Sulfate (mmol/L)</text>
<text x="554.4" y="17.9" font-family="'Liberation Serif','Times New Roman',serif" font-size="21.5" font-weight="bold" font-style="normal" fill="#000" text-anchor="start" textLength="73.8" lengthAdjust="spacingAndGlyphs">TS/TOC</text>
<text x="917.1" y="17.7" font-family="'Liberation Serif','Times New Roman',serif" font-size="20.7" font-weight="bold" font-style="normal" fill="#000" text-anchor="start" textLength="85.0" lengthAdjust="spacingAndGlyphs">TS (wt%)</text>
<text x="1250.6" y="19.1" font-family="'Liberation Serif','Times New Roman',serif" font-size="20.5" font-weight="bold" font-style="normal" fill="#000" text-anchor="start">&#948;</text>
<text x="1262.0" y="9.7" font-family="'Liberation Serif','Times New Roman',serif" font-size="12.2" font-weight="bold" font-style="normal" fill="#000" text-anchor="start" textLength="12.2" lengthAdjust="spacingAndGlyphs">13</text>
<text x="1275.3" y="19.1" font-family="'Liberation Serif','Times New Roman',serif" font-size="20.5" font-weight="bold" font-style="normal" fill="#000" text-anchor="start" textLength="120.8" lengthAdjust="spacingAndGlyphs">C (V-PDB &#8240;)</text>
<text x="1612.8" y="18.2" font-family="'Liberation Serif','Times New Roman',serif" font-size="20.5" font-weight="bold" font-style="normal" fill="#000" text-anchor="start">&#948;</text>
<text x="1623.8" y="8.9" font-family="'Liberation Serif','Times New Roman',serif" font-size="12.2" font-weight="bold" font-style="normal" fill="#000" text-anchor="start" textLength="13.0" lengthAdjust="spacingAndGlyphs">34</text>
<text x="1637.8" y="18.2" font-family="'Liberation Serif','Times New Roman',serif" font-size="20.5" font-weight="bold" font-style="normal" fill="#000" text-anchor="start" textLength="120.0" lengthAdjust="spacingAndGlyphs">S (V-CDT &#8240;)</text>
<text x="165.4" y="670.7" font-family="'Liberation Serif','Times New Roman',serif" font-size="19.5" font-weight="bold" font-style="normal" fill="#000" text-anchor="start" textLength="149.2" lengthAdjust="spacingAndGlyphs">Methane (&#181;mol/L)</text>
<text transform="translate(19.6,344.3) rotate(-90)" font-family="'Liberation Serif','Times New Roman',serif" font-size="26" font-weight="bold" text-anchor="middle">Depth (cmbsf)</text>
<clipPath id="clipA"><rect x="65.4" y="55.9" width="337.4" height="579.2"/></clipPath>
<g clip-path="url(#clipA)">
<line x1="66.6" y1="59.4" x2="66.6" y2="58.5" stroke="#000" stroke-width="1.6"/>
<line x1="66.6" y1="62.5" x2="66.6" y2="73.2" stroke="#000" stroke-width="1.6"/>
<line x1="66.6" y1="77.2" x2="66.6" y2="90.9" stroke="#000" stroke-width="1.6"/>
<line x1="66.6" y1="94.9" x2="66.6" y2="108.1" stroke="#000" stroke-width="1.6"/>
<line x1="66.6" y1="112.1" x2="66.6" y2="125.0" stroke="#000" stroke-width="1.6"/>
<line x1="66.6" y1="129.0" x2="66.6" y2="142.3" stroke="#000" stroke-width="1.6"/>
<line x1="66.6" y1="146.3" x2="66.6" y2="161.0" stroke="#000" stroke-width="1.6"/>
<line x1="66.6" y1="165.0" x2="66.6" y2="177.5" stroke="#000" stroke-width="1.6"/>
<line x1="66.6" y1="181.5" x2="66.6" y2="194.5" stroke="#000" stroke-width="1.6"/>
<line x1="66.6" y1="198.5" x2="66.6" y2="212.2" stroke="#000" stroke-width="1.6"/>
<line x1="66.6" y1="216.2" x2="66.6" y2="229.3" stroke="#000" stroke-width="1.6"/>
<line x1="66.6" y1="233.3" x2="66.6" y2="246.9" stroke="#000" stroke-width="1.6"/>
<line x1="66.6" y1="250.9" x2="66.6" y2="264.2" stroke="#000" stroke-width="1.6"/>
<line x1="66.6" y1="268.2" x2="66.6" y2="282.0" stroke="#000" stroke-width="1.6"/>
<line x1="66.6" y1="286.0" x2="66.6" y2="298.2" stroke="#000" stroke-width="1.6"/>
<line x1="66.6" y1="302.2" x2="66.6" y2="316.4" stroke="#000" stroke-width="1.6"/>
<line x1="66.6" y1="320.4" x2="66.6" y2="333.0" stroke="#000" stroke-width="1.6"/>
<line x1="66.6" y1="337.0" x2="66.6" y2="350.7" stroke="#000" stroke-width="1.6"/>
<line x1="66.6" y1="354.7" x2="66.6" y2="368.0" stroke="#000" stroke-width="1.6"/>
<line x1="66.6" y1="372.0" x2="66.6" y2="385.2" stroke="#000" stroke-width="1.6"/>
<line x1="66.6" y1="389.2" x2="66.6" y2="402.7" stroke="#000" stroke-width="1.6"/>
<line x1="66.6" y1="406.7" x2="66.6" y2="421.0" stroke="#000" stroke-width="1.6"/>
<line x1="66.6" y1="425.0" x2="66.6" y2="437.2" stroke="#000" stroke-width="1.6"/>
<line x1="66.6" y1="441.2" x2="66.6" y2="455.1" stroke="#000" stroke-width="1.6"/>
<line x1="66.6" y1="459.1" x2="66.6" y2="472.9" stroke="#000" stroke-width="1.6"/>
<polyline points="66.6,472.4 95.9,490.5 214.2,506.8 293.6,530.4 294.5,548.2 225.4,565.4 370.6,582.2 211.0,593.7" fill="none" stroke="#000" stroke-width="1.3" stroke-linejoin="round"/>
<polygon points="67.40,53.70 68.86,57.60 73.01,57.78 69.76,60.37 70.87,64.37 67.40,62.08 63.93,64.37 65.04,60.37 61.79,57.78 65.94,57.60" fill="#fff" stroke="#000" stroke-width="0.8"/>
<clipPath id="c1"><rect x="47.40" y="29.60" width="40" height="30"/></clipPath>
<polygon points="67.40,53.70 68.86,57.60 73.01,57.78 69.76,60.37 70.87,64.37 67.40,62.08 63.93,64.37 65.04,60.37 61.79,57.78 65.94,57.60" fill="#000" stroke="#000" stroke-width="0.8" clip-path="url(#c1)"/>
<polygon points="67.40,68.40 68.86,72.30 73.01,72.48 69.76,75.07 70.87,79.07 67.40,76.78 63.93,79.07 65.04,75.07 61.79,72.48 65.94,72.30" fill="#fff" stroke="#000" stroke-width="0.8"/>
<clipPath id="c2"><rect x="47.40" y="44.30" width="40" height="30"/></clipPath>
<polygon points="67.40,68.40 68.86,72.30 73.01,72.48 69.76,75.07 70.87,79.07 67.40,76.78 63.93,79.07 65.04,75.07 61.79,72.48 65.94,72.30" fill="#000" stroke="#000" stroke-width="0.8" clip-path="url(#c2)"/>
<polygon points="67.40,86.10 68.86,90.00 73.01,90.18 69.76,92.77 70.87,96.77 67.40,94.48 63.93,96.77 65.04,92.77 61.79,90.18 65.94,90.00" fill="#fff" stroke="#000" stroke-width="0.8"/>
<clipPath id="c3"><rect x="47.40" y="62.00" width="40" height="30"/></clipPath>
<polygon points="67.40,86.10 68.86,90.00 73.01,90.18 69.76,92.77 70.87,96.77 67.40,94.48 63.93,96.77 65.04,92.77 61.79,90.18 65.94,90.00" fill="#000" stroke="#000" stroke-width="0.8" clip-path="url(#c3)"/>
<polygon points="67.40,103.30 68.86,107.20 73.01,107.38 69.76,109.97 70.87,113.97 67.40,111.68 63.93,113.97 65.04,109.97 61.79,107.38 65.94,107.20" fill="#fff" stroke="#000" stroke-width="0.8"/>
<clipPath id="c4"><rect x="47.40" y="79.20" width="40" height="30"/></clipPath>
<polygon points="67.40,103.30 68.86,107.20 73.01,107.38 69.76,109.97 70.87,113.97 67.40,111.68 63.93,113.97 65.04,109.97 61.79,107.38 65.94,107.20" fill="#000" stroke="#000" stroke-width="0.8" clip-path="url(#c4)"/>
<polygon points="67.40,120.20 68.86,124.10 73.01,124.28 69.76,126.87 70.87,130.87 67.40,128.58 63.93,130.87 65.04,126.87 61.79,124.28 65.94,124.10" fill="#fff" stroke="#000" stroke-width="0.8"/>
<clipPath id="c5"><rect x="47.40" y="96.10" width="40" height="30"/></clipPath>
<polygon points="67.40,120.20 68.86,124.10 73.01,124.28 69.76,126.87 70.87,130.87 67.40,128.58 63.93,130.87 65.04,126.87 61.79,124.28 65.94,124.10" fill="#000" stroke="#000" stroke-width="0.8" clip-path="url(#c5)"/>
<polygon points="67.40,137.50 68.86,141.40 73.01,141.58 69.76,144.17 70.87,148.17 67.40,145.88 63.93,148.17 65.04,144.17 61.79,141.58 65.94,141.40" fill="#fff" stroke="#000" stroke-width="0.8"/>
<clipPath id="c6"><rect x="47.40" y="113.40" width="40" height="30"/></clipPath>
<polygon points="67.40,137.50 68.86,141.40 73.01,141.58 69.76,144.17 70.87,148.17 67.40,145.88 63.93,148.17 65.04,144.17 61.79,141.58 65.94,141.40" fill="#000" stroke="#000" stroke-width="0.8" clip-path="url(#c6)"/>
<polygon points="67.40,156.20 68.86,160.10 73.01,160.28 69.76,162.87 70.87,166.87 67.40,164.58 63.93,166.87 65.04,162.87 61.79,160.28 65.94,160.10" fill="#fff" stroke="#000" stroke-width="0.8"/>
<clipPath id="c7"><rect x="47.40" y="132.10" width="40" height="30"/></clipPath>
<polygon points="67.40,156.20 68.86,160.10 73.01,160.28 69.76,162.87 70.87,166.87 67.40,164.58 63.93,166.87 65.04,162.87 61.79,160.28 65.94,160.10" fill="#000" stroke="#000" stroke-width="0.8" clip-path="url(#c7)"/>
<polygon points="67.40,172.70 68.86,176.60 73.01,176.78 69.76,179.37 70.87,183.37 67.40,181.08 63.93,183.37 65.04,179.37 61.79,176.78 65.94,176.60" fill="#fff" stroke="#000" stroke-width="0.8"/>
<clipPath id="c8"><rect x="47.40" y="148.60" width="40" height="30"/></clipPath>
<polygon points="67.40,172.70 68.86,176.60 73.01,176.78 69.76,179.37 70.87,183.37 67.40,181.08 63.93,183.37 65.04,179.37 61.79,176.78 65.94,176.60" fill="#000" stroke="#000" stroke-width="0.8" clip-path="url(#c8)"/>
<polygon points="67.40,189.70 68.86,193.60 73.01,193.78 69.76,196.37 70.87,200.37 67.40,198.08 63.93,200.37 65.04,196.37 61.79,193.78 65.94,193.60" fill="#fff" stroke="#000" stroke-width="0.8"/>
<clipPath id="c9"><rect x="47.40" y="165.60" width="40" height="30"/></clipPath>
<polygon points="67.40,189.70 68.86,193.60 73.01,193.78 69.76,196.37 70.87,200.37 67.40,198.08 63.93,200.37 65.04,196.37 61.79,193.78 65.94,193.60" fill="#000" stroke="#000" stroke-width="0.8" clip-path="url(#c9)"/>
<polygon points="67.40,207.40 68.86,211.30 73.01,211.48 69.76,214.07 70.87,218.07 67.40,215.78 63.93,218.07 65.04,214.07 61.79,211.48 65.94,211.30" fill="#fff" stroke="#000" stroke-width="0.8"/>
<clipPath id="c10"><rect x="47.40" y="183.30" width="40" height="30"/></clipPath>
<polygon points="67.40,207.40 68.86,211.30 73.01,211.48 69.76,214.07 70.87,218.07 67.40,215.78 63.93,218.07 65.04,214.07 61.79,211.48 65.94,211.30" fill="#000" stroke="#000" stroke-width="0.8" clip-path="url(#c10)"/>
<polygon points="67.40,224.50 68.86,228.40 73.01,228.58 69.76,231.17 70.87,235.17 67.40,232.88 63.93,235.17 65.04,231.17 61.79,228.58 65.94,228.40" fill="#fff" stroke="#000" stroke-width="0.8"/>
<clipPath id="c11"><rect x="47.40" y="200.40" width="40" height="30"/></clipPath>
<polygon points="67.40,224.50 68.86,228.40 73.01,228.58 69.76,231.17 70.87,235.17 67.40,232.88 63.93,235.17 65.04,231.17 61.79,228.58 65.94,228.40" fill="#000" stroke="#000" stroke-width="0.8" clip-path="url(#c11)"/>
<polygon points="67.40,242.10 68.86,246.00 73.01,246.18 69.76,248.77 70.87,252.77 67.40,250.48 63.93,252.77 65.04,248.77 61.79,246.18 65.94,246.00" fill="#fff" stroke="#000" stroke-width="0.8"/>
<clipPath id="c12"><rect x="47.40" y="218.00" width="40" height="30"/></clipPath>
<polygon points="67.40,242.10 68.86,246.00 73.01,246.18 69.76,248.77 70.87,252.77 67.40,250.48 63.93,252.77 65.04,248.77 61.79,246.18 65.94,246.00" fill="#000" stroke="#000" stroke-width="0.8" clip-path="url(#c12)"/>
<polygon points="67.40,259.40 68.86,263.30 73.01,263.48 69.76,266.07 70.87,270.07 67.40,267.78 63.93,270.07 65.04,266.07 61.79,263.48 65.94,263.30" fill="#fff" stroke="#000" stroke-width="0.8"/>
<clipPath id="c13"><rect x="47.40" y="235.30" width="40" height="30"/></clipPath>
<polygon points="67.40,259.40 68.86,263.30 73.01,263.48 69.76,266.07 70.87,270.07 67.40,267.78 63.93,270.07 65.04,266.07 61.79,263.48 65.94,263.30" fill="#000" stroke="#000" stroke-width="0.8" clip-path="url(#c13)"/>
<polygon points="67.40,277.20 68.86,281.10 73.01,281.28 69.76,283.87 70.87,287.87 67.40,285.58 63.93,287.87 65.04,283.87 61.79,281.28 65.94,281.10" fill="#fff" stroke="#000" stroke-width="0.8"/>
<clipPath id="c14"><rect x="47.40" y="253.10" width="40" height="30"/></clipPath>
<polygon points="67.40,277.20 68.86,281.10 73.01,281.28 69.76,283.87 70.87,287.87 67.40,285.58 63.93,287.87 65.04,283.87 61.79,281.28 65.94,281.10" fill="#000" stroke="#000" stroke-width="0.8" clip-path="url(#c14)"/>
<polygon points="67.40,293.40 68.86,297.30 73.01,297.48 69.76,300.07 70.87,304.07 67.40,301.78 63.93,304.07 65.04,300.07 61.79,297.48 65.94,297.30" fill="#fff" stroke="#000" stroke-width="0.8"/>
<clipPath id="c15"><rect x="47.40" y="269.30" width="40" height="30"/></clipPath>
<polygon points="67.40,293.40 68.86,297.30 73.01,297.48 69.76,300.07 70.87,304.07 67.40,301.78 63.93,304.07 65.04,300.07 61.79,297.48 65.94,297.30" fill="#000" stroke="#000" stroke-width="0.8" clip-path="url(#c15)"/>
<polygon points="67.40,311.60 68.86,315.50 73.01,315.68 69.76,318.27 70.87,322.27 67.40,319.98 63.93,322.27 65.04,318.27 61.79,315.68 65.94,315.50" fill="#fff" stroke="#000" stroke-width="0.8"/>
<clipPath id="c16"><rect x="47.40" y="287.50" width="40" height="30"/></clipPath>
<polygon points="67.40,311.60 68.86,315.50 73.01,315.68 69.76,318.27 70.87,322.27 67.40,319.98 63.93,322.27 65.04,318.27 61.79,315.68 65.94,315.50" fill="#000" stroke="#000" stroke-width="0.8" clip-path="url(#c16)"/>
<polygon points="67.40,328.20 68.86,332.10 73.01,332.28 69.76,334.87 70.87,338.87 67.40,336.58 63.93,338.87 65.04,334.87 61.79,332.28 65.94,332.10" fill="#fff" stroke="#000" stroke-width="0.8"/>
<clipPath id="c17"><rect x="47.40" y="304.10" width="40" height="30"/></clipPath>
<polygon points="67.40,328.20 68.86,332.10 73.01,332.28 69.76,334.87 70.87,338.87 67.40,336.58 63.93,338.87 65.04,334.87 61.79,332.28 65.94,332.10" fill="#000" stroke="#000" stroke-width="0.8" clip-path="url(#c17)"/>
<polygon points="67.40,345.90 68.86,349.80 73.01,349.98 69.76,352.57 70.87,356.57 67.40,354.28 63.93,356.57 65.04,352.57 61.79,349.98 65.94,349.80" fill="#fff" stroke="#000" stroke-width="0.8"/>
<clipPath id="c18"><rect x="47.40" y="321.80" width="40" height="30"/></clipPath>
<polygon points="67.40,345.90 68.86,349.80 73.01,349.98 69.76,352.57 70.87,356.57 67.40,354.28 63.93,356.57 65.04,352.57 61.79,349.98 65.94,349.80" fill="#000" stroke="#000" stroke-width="0.8" clip-path="url(#c18)"/>
<polygon points="67.40,363.20 68.86,367.10 73.01,367.28 69.76,369.87 70.87,373.87 67.40,371.58 63.93,373.87 65.04,369.87 61.79,367.28 65.94,367.10" fill="#fff" stroke="#000" stroke-width="0.8"/>
<clipPath id="c19"><rect x="47.40" y="339.10" width="40" height="30"/></clipPath>
<polygon points="67.40,363.20 68.86,367.10 73.01,367.28 69.76,369.87 70.87,373.87 67.40,371.58 63.93,373.87 65.04,369.87 61.79,367.28 65.94,367.10" fill="#000" stroke="#000" stroke-width="0.8" clip-path="url(#c19)"/>
<polygon points="67.40,380.40 68.86,384.30 73.01,384.48 69.76,387.07 70.87,391.07 67.40,388.78 63.93,391.07 65.04,387.07 61.79,384.48 65.94,384.30" fill="#d9d9d9" stroke="#000" stroke-width="0.8"/>
<clipPath id="c20"><rect x="47.40" y="356.30" width="40" height="30"/></clipPath>
<polygon points="67.40,380.40 68.86,384.30 73.01,384.48 69.76,387.07 70.87,391.07 67.40,388.78 63.93,391.07 65.04,387.07 61.79,384.48 65.94,384.30" fill="#000" stroke="#000" stroke-width="0.8" clip-path="url(#c20)"/>
<polygon points="67.40,397.90 68.86,401.80 73.01,401.98 69.76,404.57 70.87,408.57 67.40,406.28 63.93,408.57 65.04,404.57 61.79,401.98 65.94,401.80" fill="#d9d9d9" stroke="#000" stroke-width="0.8"/>
<clipPath id="c21"><rect x="47.40" y="373.80" width="40" height="30"/></clipPath>
<polygon points="67.40,397.90 68.86,401.80 73.01,401.98 69.76,404.57 70.87,408.57 67.40,406.28 63.93,408.57 65.04,404.57 61.79,401.98 65.94,401.80" fill="#000" stroke="#000" stroke-width="0.8" clip-path="url(#c21)"/>
<polygon points="67.40,416.20 68.86,420.10 73.01,420.28 69.76,422.87 70.87,426.87 67.40,424.58 63.93,426.87 65.04,422.87 61.79,420.28 65.94,420.10" fill="#d9d9d9" stroke="#000" stroke-width="0.8"/>
<clipPath id="c22"><rect x="47.40" y="392.10" width="40" height="30"/></clipPath>
<polygon points="67.40,416.20 68.86,420.10 73.01,420.28 69.76,422.87 70.87,426.87 67.40,424.58 63.93,426.87 65.04,422.87 61.79,420.28 65.94,420.10" fill="#000" stroke="#000" stroke-width="0.8" clip-path="url(#c22)"/>
<polygon points="67.40,432.40 68.86,436.30 73.01,436.48 69.76,439.07 70.87,443.07 67.40,440.78 63.93,443.07 65.04,439.07 61.79,436.48 65.94,436.30" fill="#d9d9d9" stroke="#000" stroke-width="0.8"/>
<clipPath id="c23"><rect x="47.40" y="408.30" width="40" height="30"/></clipPath>
<polygon points="67.40,432.40 68.86,436.30 73.01,436.48 69.76,439.07 70.87,443.07 67.40,440.78 63.93,443.07 65.04,439.07 61.79,436.48 65.94,436.30" fill="#000" stroke="#000" stroke-width="0.8" clip-path="url(#c23)"/>
<polygon points="67.40,450.30 68.86,454.20 73.01,454.38 69.76,456.97 70.87,460.97 67.40,458.68 63.93,460.97 65.04,456.97 61.79,454.38 65.94,454.20" fill="#d9d9d9" stroke="#000" stroke-width="0.8"/>
<clipPath id="c24"><rect x="47.40" y="426.20" width="40" height="30"/></clipPath>
<polygon points="67.40,450.30 68.86,454.20 73.01,454.38 69.76,456.97 70.87,460.97 67.40,458.68 63.93,460.97 65.04,456.97 61.79,454.38 65.94,454.20" fill="#000" stroke="#000" stroke-width="0.8" clip-path="url(#c24)"/>
<polygon points="67.40,468.10 68.86,472.00 73.01,472.18 69.76,474.77 70.87,478.77 67.40,476.48 63.93,478.77 65.04,474.77 61.79,472.18 65.94,472.00" fill="#d9d9d9" stroke="#000" stroke-width="0.8"/>
<clipPath id="c25"><rect x="47.40" y="444.00" width="40" height="30"/></clipPath>
<polygon points="67.40,468.10 68.86,472.00 73.01,472.18 69.76,474.77 70.87,478.77 67.40,476.48 63.93,478.77 65.04,474.77 61.79,472.18 65.94,472.00" fill="#000" stroke="#000" stroke-width="0.8" clip-path="url(#c25)"/>
<polygon points="95.90,484.60 97.36,488.50 101.51,488.68 98.26,491.27 99.37,495.27 95.90,492.98 92.43,495.27 93.54,491.27 90.29,488.68 94.44,488.50" fill="#d9d9d9" stroke="#000" stroke-width="0.9"/>
<clipPath id="c26"><rect x="75.90" y="460.50" width="40" height="30"/></clipPath>
<polygon points="95.90,484.60 97.36,488.50 101.51,488.68 98.26,491.27 99.37,495.27 95.90,492.98 92.43,495.27 93.54,491.27 90.29,488.68 94.44,488.50" fill="#000" stroke="#000" stroke-width="0.9" clip-path="url(#c26)"/>
<polygon points="214.20,500.90 215.66,504.80 219.81,504.98 216.56,507.57 217.67,511.57 214.20,509.28 210.73,511.57 211.84,507.57 208.59,504.98 212.74,504.80" fill="#d9d9d9" stroke="#000" stroke-width="0.9"/>
<clipPath id="c27"><rect x="194.20" y="476.80" width="40" height="30"/></clipPath>
<polygon points="214.20,500.90 215.66,504.80 219.81,504.98 216.56,507.57 217.67,511.57 214.20,509.28 210.73,511.57 211.84,507.57 208.59,504.98 212.74,504.80" fill="#000" stroke="#000" stroke-width="0.9" clip-path="url(#c27)"/>
<polygon points="293.60,524.50 295.06,528.40 299.21,528.58 295.96,531.17 297.07,535.17 293.60,532.88 290.13,535.17 291.24,531.17 287.99,528.58 292.14,528.40" fill="#fff" stroke="#000" stroke-width="0.9"/>
<clipPath id="c28"><rect x="273.60" y="500.40" width="40" height="30"/></clipPath>
<polygon points="293.60,524.50 295.06,528.40 299.21,528.58 295.96,531.17 297.07,535.17 293.60,532.88 290.13,535.17 291.24,531.17 287.99,528.58 292.14,528.40" fill="#000" stroke="#000" stroke-width="0.9" clip-path="url(#c28)"/>
<polygon points="294.50,542.30 295.96,546.20 300.11,546.38 296.86,548.97 297.97,552.97 294.50,550.68 291.03,552.97 292.14,548.97 288.89,546.38 293.04,546.20" fill="#fff" stroke="#000" stroke-width="0.9"/>
<clipPath id="c29"><rect x="274.50" y="518.20" width="40" height="30"/></clipPath>
<polygon points="294.50,542.30 295.96,546.20 300.11,546.38 296.86,548.97 297.97,552.97 294.50,550.68 291.03,552.97 292.14,548.97 288.89,546.38 293.04,546.20" fill="#000" stroke="#000" stroke-width="0.9" clip-path="url(#c29)"/>
<polygon points="225.40,559.50 226.86,563.40 231.01,563.58 227.76,566.17 228.87,570.17 225.40,567.88 221.93,570.17 223.04,566.17 219.79,563.58 223.94,563.40" fill="#fff" stroke="#000" stroke-width="0.9"/>
<clipPath id="c30"><rect x="205.40" y="535.40" width="40" height="30"/></clipPath>
<polygon points="225.40,559.50 226.86,563.40 231.01,563.58 227.76,566.17 228.87,570.17 225.40,567.88 221.93,570.17 223.04,566.17 219.79,563.58 223.94,563.40" fill="#000" stroke="#000" stroke-width="0.9" clip-path="url(#c30)"/>
<polygon points="370.60,576.30 372.06,580.20 376.21,580.38 372.96,582.97 374.07,586.97 370.60,584.68 367.13,586.97 368.24,582.97 364.99,580.38 369.14,580.20" fill="#fff" stroke="#000" stroke-width="0.9"/>
<clipPath id="c31"><rect x="350.60" y="552.20" width="40" height="30"/></clipPath>
<polygon points="370.60,576.30 372.06,580.20 376.21,580.38 372.96,582.97 374.07,586.97 370.60,584.68 367.13,586.97 368.24,582.97 364.99,580.38 369.14,580.20" fill="#000" stroke="#000" stroke-width="0.9" clip-path="url(#c31)"/>
<polygon points="211.00,587.80 212.46,591.70 216.61,591.88 213.36,594.47 214.47,598.47 211.00,596.18 207.53,598.47 208.64,594.47 205.39,591.88 209.54,591.70" fill="#fff" stroke="#000" stroke-width="0.9"/>
<clipPath id="c32"><rect x="191.00" y="563.70" width="40" height="30"/></clipPath>
<polygon points="211.00,587.80 212.46,591.70 216.61,591.88 213.36,594.47 214.47,598.47 211.00,596.18 207.53,598.47 208.64,594.47 205.39,591.88 209.54,591.70" fill="#000" stroke="#000" stroke-width="0.9" clip-path="url(#c32)"/>
</g>
<g clip-path="url(#clipA)">
<polyline points="367.0,58.0 367.0,72.7 364.7,90.4 365.7,107.6 363.6,141.8 359.0,160.5 367.4,177.0 358.0,194.0 364.8,211.7 364.8,228.8 361.7,246.4 361.7,263.7 362.5,281.5 348.3,297.7 359.0,315.9 348.3,332.5 314.0,350.2 300.1,367.5 273.4,384.7 250.9,402.2 236.8,420.5 222.5,436.7 189.0,454.6 152.6,472.4 110.5,489.7 88.7,507.0 78.6,529.8 74.6,548.2 75.0,565.6 80.4,582.6 72.7,594.2" fill="none" stroke="#ec1c24" stroke-width="1.5" stroke-linejoin="round"/>
<polygon points="367.00,52.10 368.46,56.00 372.61,56.18 369.36,58.77 370.47,62.77 367.00,60.48 363.53,62.77 364.64,58.77 361.39,56.18 365.54,56.00" fill="#fff" stroke="#ec1c24" stroke-width="0.9"/>
<clipPath id="c33"><rect x="367.00" y="38.00" width="30" height="40"/></clipPath>
<polygon points="367.00,52.10 368.46,56.00 372.61,56.18 369.36,58.77 370.47,62.77 367.00,60.48 363.53,62.77 364.64,58.77 361.39,56.18 365.54,56.00" fill="#ec1c24" stroke="#ec1c24" stroke-width="0.9" clip-path="url(#c33)"/>
<polygon points="367.00,66.80 368.46,70.70 372.61,70.88 369.36,73.47 370.47,77.47 367.00,75.18 363.53,77.47 364.64,73.47 361.39,70.88 365.54,70.70" fill="#fff" stroke="#ec1c24" stroke-width="0.9"/>
<clipPath id="c34"><rect x="367.00" y="52.70" width="30" height="40"/></clipPath>
<polygon points="367.00,66.80 368.46,70.70 372.61,70.88 369.36,73.47 370.47,77.47 367.00,75.18 363.53,77.47 364.64,73.47 361.39,70.88 365.54,70.70" fill="#ec1c24" stroke="#ec1c24" stroke-width="0.9" clip-path="url(#c34)"/>
<polygon points="364.70,84.50 366.16,88.40 370.31,88.58 367.06,91.17 368.17,95.17 364.70,92.88 361.23,95.17 362.34,91.17 359.09,88.58 363.24,88.40" fill="#fff" stroke="#ec1c24" stroke-width="0.9"/>
<clipPath id="c35"><rect x="364.70" y="70.40" width="30" height="40"/></clipPath>
<polygon points="364.70,84.50 366.16,88.40 370.31,88.58 367.06,91.17 368.17,95.17 364.70,92.88 361.23,95.17 362.34,91.17 359.09,88.58 363.24,88.40" fill="#ec1c24" stroke="#ec1c24" stroke-width="0.9" clip-path="url(#c35)"/>
<polygon points="365.70,101.70 367.16,105.60 371.31,105.78 368.06,108.37 369.17,112.37 365.70,110.08 362.23,112.37 363.34,108.37 360.09,105.78 364.24,105.60" fill="#fff" stroke="#ec1c24" stroke-width="0.9"/>
<clipPath id="c36"><rect x="365.70" y="87.60" width="30" height="40"/></clipPath>
<polygon points="365.70,101.70 367.16,105.60 371.31,105.78 368.06,108.37 369.17,112.37 365.70,110.08 362.23,112.37 363.34,108.37 360.09,105.78 364.24,105.60" fill="#ec1c24" stroke="#ec1c24" stroke-width="0.9" clip-path="url(#c36)"/>
<polygon points="363.60,135.90 365.06,139.80 369.21,139.98 365.96,142.57 367.07,146.57 363.60,144.28 360.13,146.57 361.24,142.57 357.99,139.98 362.14,139.80" fill="#fff" stroke="#ec1c24" stroke-width="0.9"/>
<clipPath id="c37"><rect x="363.60" y="121.80" width="30" height="40"/></clipPath>
<polygon points="363.60,135.90 365.06,139.80 369.21,139.98 365.96,142.57 367.07,146.57 363.60,144.28 360.13,146.57 361.24,142.57 357.99,139.98 362.14,139.80" fill="#ec1c24" stroke="#ec1c24" stroke-width="0.9" clip-path="url(#c37)"/>
<polygon points="359.00,154.60 360.46,158.50 364.61,158.68 361.36,161.27 362.47,165.27 359.00,162.98 355.53,165.27 356.64,161.27 353.39,158.68 357.54,158.50" fill="#fff" stroke="#ec1c24" stroke-width="0.9"/>
<clipPath id="c38"><rect x="359.00" y="140.50" width="30" height="40"/></clipPath>
<polygon points="359.00,154.60 360.46,158.50 364.61,158.68 361.36,161.27 362.47,165.27 359.00,162.98 355.53,165.27 356.64,161.27 353.39,158.68 357.54,158.50" fill="#ec1c24" stroke="#ec1c24" stroke-width="0.9" clip-path="url(#c38)"/>
<polygon points="367.40,171.10 368.86,175.00 373.01,175.18 369.76,177.77 370.87,181.77 367.40,179.48 363.93,181.77 365.04,177.77 361.79,175.18 365.94,175.00" fill="#fff" stroke="#ec1c24" stroke-width="0.9"/>
<clipPath id="c39"><rect x="367.40" y="157.00" width="30" height="40"/></clipPath>
<polygon points="367.40,171.10 368.86,175.00 373.01,175.18 369.76,177.77 370.87,181.77 367.40,179.48 363.93,181.77 365.04,177.77 361.79,175.18 365.94,175.00" fill="#ec1c24" stroke="#ec1c24" stroke-width="0.9" clip-path="url(#c39)"/>
<polygon points="358.00,188.10 359.46,192.00 363.61,192.18 360.36,194.77 361.47,198.77 358.00,196.48 354.53,198.77 355.64,194.77 352.39,192.18 356.54,192.00" fill="#fff" stroke="#ec1c24" stroke-width="0.9"/>
<clipPath id="c40"><rect x="358.00" y="174.00" width="30" height="40"/></clipPath>
<polygon points="358.00,188.10 359.46,192.00 363.61,192.18 360.36,194.77 361.47,198.77 358.00,196.48 354.53,198.77 355.64,194.77 352.39,192.18 356.54,192.00" fill="#ec1c24" stroke="#ec1c24" stroke-width="0.9" clip-path="url(#c40)"/>
<polygon points="364.80,205.80 366.26,209.70 370.41,209.88 367.16,212.47 368.27,216.47 364.80,214.18 361.33,216.47 362.44,212.47 359.19,209.88 363.34,209.70" fill="#fff" stroke="#ec1c24" stroke-width="0.9"/>
<clipPath id="c41"><rect x="364.80" y="191.70" width="30" height="40"/></clipPath>
<polygon points="364.80,205.80 366.26,209.70 370.41,209.88 367.16,212.47 368.27,216.47 364.80,214.18 361.33,216.47 362.44,212.47 359.19,209.88 363.34,209.70" fill="#ec1c24" stroke="#ec1c24" stroke-width="0.9" clip-path="url(#c41)"/>
<polygon points="364.80,222.90 366.26,226.80 370.41,226.98 367.16,229.57 368.27,233.57 364.80,231.28 361.33,233.57 362.44,229.57 359.19,226.98 363.34,226.80" fill="#fff" stroke="#ec1c24" stroke-width="0.9"/>
<clipPath id="c42"><rect x="364.80" y="208.80" width="30" height="40"/></clipPath>
<polygon points="364.80,222.90 366.26,226.80 370.41,226.98 367.16,229.57 368.27,233.57 364.80,231.28 361.33,233.57 362.44,229.57 359.19,226.98 363.34,226.80" fill="#ec1c24" stroke="#ec1c24" stroke-width="0.9" clip-path="url(#c42)"/>
<polygon points="361.70,240.50 363.16,244.40 367.31,244.58 364.06,247.17 365.17,251.17 361.70,248.88 358.23,251.17 359.34,247.17 356.09,244.58 360.24,244.40" fill="#fff" stroke="#ec1c24" stroke-width="0.9"/>
<clipPath id="c43"><rect x="361.70" y="226.40" width="30" height="40"/></clipPath>
<polygon points="361.70,240.50 363.16,244.40 367.31,244.58 364.06,247.17 365.17,251.17 361.70,248.88 358.23,251.17 359.34,247.17 356.09,244.58 360.24,244.40" fill="#ec1c24" stroke="#ec1c24" stroke-width="0.9" clip-path="url(#c43)"/>
<polygon points="361.70,257.80 363.16,261.70 367.31,261.88 364.06,264.47 365.17,268.47 361.70,266.18 358.23,268.47 359.34,264.47 356.09,261.88 360.24,261.70" fill="#fff" stroke="#ec1c24" stroke-width="0.9"/>
<clipPath id="c44"><rect x="361.70" y="243.70" width="30" height="40"/></clipPath>
<polygon points="361.70,257.80 363.16,261.70 367.31,261.88 364.06,264.47 365.17,268.47 361.70,266.18 358.23,268.47 359.34,264.47 356.09,261.88 360.24,261.70" fill="#ec1c24" stroke="#ec1c24" stroke-width="0.9" clip-path="url(#c44)"/>
<polygon points="362.50,275.60 363.96,279.50 368.11,279.68 364.86,282.27 365.97,286.27 362.50,283.98 359.03,286.27 360.14,282.27 356.89,279.68 361.04,279.50" fill="#fff" stroke="#ec1c24" stroke-width="0.9"/>
<clipPath id="c45"><rect x="362.50" y="261.50" width="30" height="40"/></clipPath>
<polygon points="362.50,275.60 363.96,279.50 368.11,279.68 364.86,282.27 365.97,286.27 362.50,283.98 359.03,286.27 360.14,282.27 356.89,279.68 361.04,279.50" fill="#ec1c24" stroke="#ec1c24" stroke-width="0.9" clip-path="url(#c45)"/>
<polygon points="348.30,291.80 349.76,295.70 353.91,295.88 350.66,298.47 351.77,302.47 348.30,300.18 344.83,302.47 345.94,298.47 342.69,295.88 346.84,295.70" fill="#fff" stroke="#ec1c24" stroke-width="0.9"/>
<clipPath id="c46"><rect x="348.30" y="277.70" width="30" height="40"/></clipPath>
<polygon points="348.30,291.80 349.76,295.70 353.91,295.88 350.66,298.47 351.77,302.47 348.30,300.18 344.83,302.47 345.94,298.47 342.69,295.88 346.84,295.70" fill="#ec1c24" stroke="#ec1c24" stroke-width="0.9" clip-path="url(#c46)"/>
<polygon points="359.00,310.00 360.46,313.90 364.61,314.08 361.36,316.67 362.47,320.67 359.00,318.38 355.53,320.67 356.64,316.67 353.39,314.08 357.54,313.90" fill="#fff" stroke="#ec1c24" stroke-width="0.9"/>
<clipPath id="c47"><rect x="359.00" y="295.90" width="30" height="40"/></clipPath>
<polygon points="359.00,310.00 360.46,313.90 364.61,314.08 361.36,316.67 362.47,320.67 359.00,318.38 355.53,320.67 356.64,316.67 353.39,314.08 357.54,313.90" fill="#ec1c24" stroke="#ec1c24" stroke-width="0.9" clip-path="url(#c47)"/>
<polygon points="348.30,326.60 349.76,330.50 353.91,330.68 350.66,333.27 351.77,337.27 348.30,334.98 344.83,337.27 345.94,333.27 342.69,330.68 346.84,330.50" fill="#fff" stroke="#ec1c24" stroke-width="0.9"/>
<clipPath id="c48"><rect x="348.30" y="312.50" width="30" height="40"/></clipPath>
<polygon points="348.30,326.60 349.76,330.50 353.91,330.68 350.66,333.27 351.77,337.27 348.30,334.98 344.83,337.27 345.94,333.27 342.69,330.68 346.84,330.50" fill="#ec1c24" stroke="#ec1c24" stroke-width="0.9" clip-path="url(#c48)"/>
<polygon points="314.00,344.30 315.46,348.20 319.61,348.38 316.36,350.97 317.47,354.97 314.00,352.68 310.53,354.97 311.64,350.97 308.39,348.38 312.54,348.20" fill="#fff" stroke="#ec1c24" stroke-width="0.9"/>
<clipPath id="c49"><rect x="314.00" y="330.20" width="30" height="40"/></clipPath>
<polygon points="314.00,344.30 315.46,348.20 319.61,348.38 316.36,350.97 317.47,354.97 314.00,352.68 310.53,354.97 311.64,350.97 308.39,348.38 312.54,348.20" fill="#ec1c24" stroke="#ec1c24" stroke-width="0.9" clip-path="url(#c49)"/>
<polygon points="300.10,361.60 301.56,365.50 305.71,365.68 302.46,368.27 303.57,372.27 300.10,369.98 296.63,372.27 297.74,368.27 294.49,365.68 298.64,365.50" fill="#fff" stroke="#ec1c24" stroke-width="0.9"/>
<clipPath id="c50"><rect x="300.10" y="347.50" width="30" height="40"/></clipPath>
<polygon points="300.10,361.60 301.56,365.50 305.71,365.68 302.46,368.27 303.57,372.27 300.10,369.98 296.63,372.27 297.74,368.27 294.49,365.68 298.64,365.50" fill="#ec1c24" stroke="#ec1c24" stroke-width="0.9" clip-path="url(#c50)"/>
<polygon points="273.40,378.80 274.86,382.70 279.01,382.88 275.76,385.47 276.87,389.47 273.40,387.18 269.93,389.47 271.04,385.47 267.79,382.88 271.94,382.70" fill="#fff" stroke="#ec1c24" stroke-width="0.9"/>
<clipPath id="c51"><rect x="273.40" y="364.70" width="30" height="40"/></clipPath>
<polygon points="273.40,378.80 274.86,382.70 279.01,382.88 275.76,385.47 276.87,389.47 273.40,387.18 269.93,389.47 271.04,385.47 267.79,382.88 271.94,382.70" fill="#ec1c24" stroke="#ec1c24" stroke-width="0.9" clip-path="url(#c51)"/>
<polygon points="250.90,396.30 252.36,400.20 256.51,400.38 253.26,402.97 254.37,406.97 250.90,404.68 247.43,406.97 248.54,402.97 245.29,400.38 249.44,400.20" fill="#d9d9d9" stroke="#ec1c24" stroke-width="0.9"/>
<clipPath id="c52"><rect x="250.90" y="382.20" width="30" height="40"/></clipPath>
<polygon points="250.90,396.30 252.36,400.20 256.51,400.38 253.26,402.97 254.37,406.97 250.90,404.68 247.43,406.97 248.54,402.97 245.29,400.38 249.44,400.20" fill="#ec1c24" stroke="#ec1c24" stroke-width="0.9" clip-path="url(#c52)"/>
<polygon points="236.80,414.60 238.26,418.50 242.41,418.68 239.16,421.27 240.27,425.27 236.80,422.98 233.33,425.27 234.44,421.27 231.19,418.68 235.34,418.50" fill="#d9d9d9" stroke="#ec1c24" stroke-width="0.9"/>
<clipPath id="c53"><rect x="236.80" y="400.50" width="30" height="40"/></clipPath>
<polygon points="236.80,414.60 238.26,418.50 242.41,418.68 239.16,421.27 240.27,425.27 236.80,422.98 233.33,425.27 234.44,421.27 231.19,418.68 235.34,418.50" fill="#ec1c24" stroke="#ec1c24" stroke-width="0.9" clip-path="url(#c53)"/>
<polygon points="222.50,430.80 223.96,434.70 228.11,434.88 224.86,437.47 225.97,441.47 222.50,439.18 219.03,441.47 220.14,437.47 216.89,434.88 221.04,434.70" fill="#d9d9d9" stroke="#ec1c24" stroke-width="0.9"/>
<clipPath id="c54"><rect x="222.50" y="416.70" width="30" height="40"/></clipPath>
<polygon points="222.50,430.80 223.96,434.70 228.11,434.88 224.86,437.47 225.97,441.47 222.50,439.18 219.03,441.47 220.14,437.47 216.89,434.88 221.04,434.70" fill="#ec1c24" stroke="#ec1c24" stroke-width="0.9" clip-path="url(#c54)"/>
<polygon points="189.00,448.70 190.46,452.60 194.61,452.78 191.36,455.37 192.47,459.37 189.00,457.08 185.53,459.37 186.64,455.37 183.39,452.78 187.54,452.60" fill="#d9d9d9" stroke="#ec1c24" stroke-width="0.9"/>
<clipPath id="c55"><rect x="189.00" y="434.60" width="30" height="40"/></clipPath>
<polygon points="189.00,448.70 190.46,452.60 194.61,452.78 191.36,455.37 192.47,459.37 189.00,457.08 185.53,459.37 186.64,455.37 183.39,452.78 187.54,452.60" fill="#ec1c24" stroke="#ec1c24" stroke-width="0.9" clip-path="url(#c55)"/>
<polygon points="152.60,466.50 154.06,470.40 158.21,470.58 154.96,473.17 156.07,477.17 152.60,474.88 149.13,477.17 150.24,473.17 146.99,470.58 151.14,470.40" fill="#d9d9d9" stroke="#ec1c24" stroke-width="0.9"/>
<clipPath id="c56"><rect x="152.60" y="452.40" width="30" height="40"/></clipPath>
<polygon points="152.60,466.50 154.06,470.40 158.21,470.58 154.96,473.17 156.07,477.17 152.60,474.88 149.13,477.17 150.24,473.17 146.99,470.58 151.14,470.40" fill="#ec1c24" stroke="#ec1c24" stroke-width="0.9" clip-path="url(#c56)"/>
<polygon points="110.50,483.80 111.96,487.70 116.11,487.88 112.86,490.47 113.97,494.47 110.50,492.18 107.03,494.47 108.14,490.47 104.89,487.88 109.04,487.70" fill="#d9d9d9" stroke="#ec1c24" stroke-width="0.9"/>
<clipPath id="c57"><rect x="110.50" y="469.70" width="30" height="40"/></clipPath>
<polygon points="110.50,483.80 111.96,487.70 116.11,487.88 112.86,490.47 113.97,494.47 110.50,492.18 107.03,494.47 108.14,490.47 104.89,487.88 109.04,487.70" fill="#ec1c24" stroke="#ec1c24" stroke-width="0.9" clip-path="url(#c57)"/>
<polygon points="88.70,501.10 90.16,505.00 94.31,505.18 91.06,507.77 92.17,511.77 88.70,509.48 85.23,511.77 86.34,507.77 83.09,505.18 87.24,505.00" fill="#d9d9d9" stroke="#ec1c24" stroke-width="0.9"/>
<clipPath id="c58"><rect x="88.70" y="487.00" width="30" height="40"/></clipPath>
<polygon points="88.70,501.10 90.16,505.00 94.31,505.18 91.06,507.77 92.17,511.77 88.70,509.48 85.23,511.77 86.34,507.77 83.09,505.18 87.24,505.00" fill="#ec1c24" stroke="#ec1c24" stroke-width="0.9" clip-path="url(#c58)"/>
<polygon points="78.60,523.90 80.06,527.80 84.21,527.98 80.96,530.57 82.07,534.57 78.60,532.28 75.13,534.57 76.24,530.57 72.99,527.98 77.14,527.80" fill="#fff" stroke="#ec1c24" stroke-width="0.9"/>
<clipPath id="c59"><rect x="78.60" y="509.80" width="30" height="40"/></clipPath>
<polygon points="78.60,523.90 80.06,527.80 84.21,527.98 80.96,530.57 82.07,534.57 78.60,532.28 75.13,534.57 76.24,530.57 72.99,527.98 77.14,527.80" fill="#ec1c24" stroke="#ec1c24" stroke-width="0.9" clip-path="url(#c59)"/>
<polygon points="74.60,542.30 76.06,546.20 80.21,546.38 76.96,548.97 78.07,552.97 74.60,550.68 71.13,552.97 72.24,548.97 68.99,546.38 73.14,546.20" fill="#fff" stroke="#ec1c24" stroke-width="0.9"/>
<clipPath id="c60"><rect x="74.60" y="528.20" width="30" height="40"/></clipPath>
<polygon points="74.60,542.30 76.06,546.20 80.21,546.38 76.96,548.97 78.07,552.97 74.60,550.68 71.13,552.97 72.24,548.97 68.99,546.38 73.14,546.20" fill="#ec1c24" stroke="#ec1c24" stroke-width="0.9" clip-path="url(#c60)"/>
<polygon points="75.00,559.70 76.46,563.60 80.61,563.78 77.36,566.37 78.47,570.37 75.00,568.08 71.53,570.37 72.64,566.37 69.39,563.78 73.54,563.60" fill="#fff" stroke="#ec1c24" stroke-width="0.9"/>
<clipPath id="c61"><rect x="75.00" y="545.60" width="30" height="40"/></clipPath>
<polygon points="75.00,559.70 76.46,563.60 80.61,563.78 77.36,566.37 78.47,570.37 75.00,568.08 71.53,570.37 72.64,566.37 69.39,563.78 73.54,563.60" fill="#ec1c24" stroke="#ec1c24" stroke-width="0.9" clip-path="url(#c61)"/>
<polygon points="80.40,576.70 81.86,580.60 86.01,580.78 82.76,583.37 83.87,587.37 80.40,585.08 76.93,587.37 78.04,583.37 74.79,580.78 78.94,580.60" fill="#fff" stroke="#ec1c24" stroke-width="0.9"/>
<clipPath id="c62"><rect x="80.40" y="562.60" width="30" height="40"/></clipPath>
<polygon points="80.40,576.70 81.86,580.60 86.01,580.78 82.76,583.37 83.87,587.37 80.40,585.08 76.93,587.37 78.04,583.37 74.79,580.78 78.94,580.60" fill="#ec1c24" stroke="#ec1c24" stroke-width="0.9" clip-path="url(#c62)"/>
<polygon points="72.70,588.30 74.16,592.20 78.31,592.38 75.06,594.97 76.17,598.97 72.70,596.68 69.23,598.97 70.34,594.97 67.09,592.38 71.24,592.20" fill="#fff" stroke="#ec1c24" stroke-width="0.9"/>
<clipPath id="c63"><rect x="72.70" y="574.20" width="30" height="40"/></clipPath>
<polygon points="72.70,588.30 74.16,592.20 78.31,592.38 75.06,594.97 76.17,598.97 72.70,596.68 69.23,598.97 70.34,594.97 67.09,592.38 71.24,592.20" fill="#ec1c24" stroke="#ec1c24" stroke-width="0.9" clip-path="url(#c63)"/>
</g>
<polyline points="482.0,75.1 486.5,92.8 480.6,103.2 545.6,127.4 528.7,144.0 592.0,155.5 530.8,179.1 483.5,190.9 519.6,208.6 589.0,219.9 492.8,243.0 495.3,260.4 503.3,272.8 535.8,295.6 536.7,307.4 533.7,325.1 504.2,335.5 503.3,359.4 527.8,380.0 505.1,388.6 515.1,408.8 542.3,420.3 530.7,434.6 556.4,446.7 598.7,470.0 735.1,481.2 583.0,498.3 534.6,504.0 554.4,534.4 521.0,551.5 520.4,563.0 465.8,580.2" fill="none" stroke="#f08a24" stroke-width="1.5" stroke-linejoin="round"/>
<polygon points="482.00,69.20 483.46,73.10 487.61,73.28 484.36,75.87 485.47,79.87 482.00,77.58 478.53,79.87 479.64,75.87 476.39,73.28 480.54,73.10" fill="#fff" stroke="#f08a24" stroke-width="0.9"/>
<clipPath id="c64"><rect x="482.00" y="55.10" width="30" height="40"/></clipPath>
<polygon points="482.00,69.20 483.46,73.10 487.61,73.28 484.36,75.87 485.47,79.87 482.00,77.58 478.53,79.87 479.64,75.87 476.39,73.28 480.54,73.10" fill="#f08a24" stroke="#f08a24" stroke-width="0.9" clip-path="url(#c64)"/>
<polygon points="486.50,86.90 487.96,90.80 492.11,90.98 488.86,93.57 489.97,97.57 486.50,95.28 483.03,97.57 484.14,93.57 480.89,90.98 485.04,90.80" fill="#fff" stroke="#f08a24" stroke-width="0.9"/>
<clipPath id="c65"><rect x="486.50" y="72.80" width="30" height="40"/></clipPath>
<polygon points="486.50,86.90 487.96,90.80 492.11,90.98 488.86,93.57 489.97,97.57 486.50,95.28 483.03,97.57 484.14,93.57 480.89,90.98 485.04,90.80" fill="#f08a24" stroke="#f08a24" stroke-width="0.9" clip-path="url(#c65)"/>
<polygon points="480.60,97.30 482.06,101.20 486.21,101.38 482.96,103.97 484.07,107.97 480.60,105.68 477.13,107.97 478.24,103.97 474.99,101.38 479.14,101.20" fill="#fff" stroke="#f08a24" stroke-width="0.9"/>
<clipPath id="c66"><rect x="480.60" y="83.20" width="30" height="40"/></clipPath>
<polygon points="480.60,97.30 482.06,101.20 486.21,101.38 482.96,103.97 484.07,107.97 480.60,105.68 477.13,107.97 478.24,103.97 474.99,101.38 479.14,101.20" fill="#f08a24" stroke="#f08a24" stroke-width="0.9" clip-path="url(#c66)"/>
<polygon points="545.60,121.50 547.06,125.40 551.21,125.58 547.96,128.17 549.07,132.17 545.60,129.88 542.13,132.17 543.24,128.17 539.99,125.58 544.14,125.40" fill="#fff" stroke="#f08a24" stroke-width="0.9"/>
<clipPath id="c67"><rect x="545.60" y="107.40" width="30" height="40"/></clipPath>
<polygon points="545.60,121.50 547.06,125.40 551.21,125.58 547.96,128.17 549.07,132.17 545.60,129.88 542.13,132.17 543.24,128.17 539.99,125.58 544.14,125.40" fill="#f08a24" stroke="#f08a24" stroke-width="0.9" clip-path="url(#c67)"/>
<polygon points="528.70,138.10 530.16,142.00 534.31,142.18 531.06,144.77 532.17,148.77 528.70,146.48 525.23,148.77 526.34,144.77 523.09,142.18 527.24,142.00" fill="#fff" stroke="#f08a24" stroke-width="0.9"/>
<clipPath id="c68"><rect x="528.70" y="124.00" width="30" height="40"/></clipPath>
<polygon points="528.70,138.10 530.16,142.00 534.31,142.18 531.06,144.77 532.17,148.77 528.70,146.48 525.23,148.77 526.34,144.77 523.09,142.18 527.24,142.00" fill="#f08a24" stroke="#f08a24" stroke-width="0.9" clip-path="url(#c68)"/>
<polygon points="592.00,149.60 593.46,153.50 597.61,153.68 594.36,156.27 595.47,160.27 592.00,157.98 588.53,160.27 589.64,156.27 586.39,153.68 590.54,153.50" fill="#fff" stroke="#f08a24" stroke-width="0.9"/>
<clipPath id="c69"><rect x="592.00" y="135.50" width="30" height="40"/></clipPath>
<polygon points="592.00,149.60 593.46,153.50 597.61,153.68 594.36,156.27 595.47,160.27 592.00,157.98 588.53,160.27 589.64,156.27 586.39,153.68 590.54,153.50" fill="#f08a24" stroke="#f08a24" stroke-width="0.9" clip-path="url(#c69)"/>
<polygon points="530.80,173.20 532.26,177.10 536.41,177.28 533.16,179.87 534.27,183.87 530.80,181.58 527.33,183.87 528.44,179.87 525.19,177.28 529.34,177.10" fill="#fff" stroke="#f08a24" stroke-width="0.9"/>
<clipPath id="c70"><rect x="530.80" y="159.10" width="30" height="40"/></clipPath>
<polygon points="530.80,173.20 532.26,177.10 536.41,177.28 533.16,179.87 534.27,183.87 530.80,181.58 527.33,183.87 528.44,179.87 525.19,177.28 529.34,177.10" fill="#f08a24" stroke="#f08a24" stroke-width="0.9" clip-path="url(#c70)"/>
<polygon points="483.50,185.00 484.96,188.90 489.11,189.08 485.86,191.67 486.97,195.67 483.50,193.38 480.03,195.67 481.14,191.67 477.89,189.08 482.04,188.90" fill="#fff" stroke="#f08a24" stroke-width="0.9"/>
<clipPath id="c71"><rect x="483.50" y="170.90" width="30" height="40"/></clipPath>
<polygon points="483.50,185.00 484.96,188.90 489.11,189.08 485.86,191.67 486.97,195.67 483.50,193.38 480.03,195.67 481.14,191.67 477.89,189.08 482.04,188.90" fill="#f08a24" stroke="#f08a24" stroke-width="0.9" clip-path="url(#c71)"/>
<polygon points="519.60,202.70 521.06,206.60 525.21,206.78 521.96,209.37 523.07,213.37 519.60,211.08 516.13,213.37 517.24,209.37 513.99,206.78 518.14,206.60" fill="#fff" stroke="#f08a24" stroke-width="0.9"/>
<clipPath id="c72"><rect x="519.60" y="188.60" width="30" height="40"/></clipPath>
<polygon points="519.60,202.70 521.06,206.60 525.21,206.78 521.96,209.37 523.07,213.37 519.60,211.08 516.13,213.37 517.24,209.37 513.99,206.78 518.14,206.60" fill="#f08a24" stroke="#f08a24" stroke-width="0.9" clip-path="url(#c72)"/>
<polygon points="589.00,214.00 590.46,217.90 594.61,218.08 591.36,220.67 592.47,224.67 589.00,222.38 585.53,224.67 586.64,220.67 583.39,218.08 587.54,217.90" fill="#fff" stroke="#f08a24" stroke-width="0.9"/>
<clipPath id="c73"><rect x="589.00" y="199.90" width="30" height="40"/></clipPath>
<polygon points="589.00,214.00 590.46,217.90 594.61,218.08 591.36,220.67 592.47,224.67 589.00,222.38 585.53,224.67 586.64,220.67 583.39,218.08 587.54,217.90" fill="#f08a24" stroke="#f08a24" stroke-width="0.9" clip-path="url(#c73)"/>
<polygon points="492.80,237.10 494.26,241.00 498.41,241.18 495.16,243.77 496.27,247.77 492.80,245.48 489.33,247.77 490.44,243.77 487.19,241.18 491.34,241.00" fill="#fff" stroke="#f08a24" stroke-width="0.9"/>
<clipPath id="c74"><rect x="492.80" y="223.00" width="30" height="40"/></clipPath>
<polygon points="492.80,237.10 494.26,241.00 498.41,241.18 495.16,243.77 496.27,247.77 492.80,245.48 489.33,247.77 490.44,243.77 487.19,241.18 491.34,241.00" fill="#f08a24" stroke="#f08a24" stroke-width="0.9" clip-path="url(#c74)"/>
<polygon points="495.30,254.50 496.76,258.40 500.91,258.58 497.66,261.17 498.77,265.17 495.30,262.88 491.83,265.17 492.94,261.17 489.69,258.58 493.84,258.40" fill="#fff" stroke="#f08a24" stroke-width="0.9"/>
<clipPath id="c75"><rect x="495.30" y="240.40" width="30" height="40"/></clipPath>
<polygon points="495.30,254.50 496.76,258.40 500.91,258.58 497.66,261.17 498.77,265.17 495.30,262.88 491.83,265.17 492.94,261.17 489.69,258.58 493.84,258.40" fill="#f08a24" stroke="#f08a24" stroke-width="0.9" clip-path="url(#c75)"/>
<polygon points="503.30,266.90 504.76,270.80 508.91,270.98 505.66,273.57 506.77,277.57 503.30,275.28 499.83,277.57 500.94,273.57 497.69,270.98 501.84,270.80" fill="#fff" stroke="#f08a24" stroke-width="0.9"/>
<clipPath id="c76"><rect x="503.30" y="252.80" width="30" height="40"/></clipPath>
<polygon points="503.30,266.90 504.76,270.80 508.91,270.98 505.66,273.57 506.77,277.57 503.30,275.28 499.83,277.57 500.94,273.57 497.69,270.98 501.84,270.80" fill="#f08a24" stroke="#f08a24" stroke-width="0.9" clip-path="url(#c76)"/>
<polygon points="535.80,289.70 537.26,293.60 541.41,293.78 538.16,296.37 539.27,300.37 535.80,298.08 532.33,300.37 533.44,296.37 530.19,293.78 534.34,293.60" fill="#fff" stroke="#f08a24" stroke-width="0.9"/>
<clipPath id="c77"><rect x="535.80" y="275.60" width="30" height="40"/></clipPath>
<polygon points="535.80,289.70 537.26,293.60 541.41,293.78 538.16,296.37 539.27,300.37 535.80,298.08 532.33,300.37 533.44,296.37 530.19,293.78 534.34,293.60" fill="#f08a24" stroke="#f08a24" stroke-width="0.9" clip-path="url(#c77)"/>
<polygon points="536.70,301.50 538.16,305.40 542.31,305.58 539.06,308.17 540.17,312.17 536.70,309.88 533.23,312.17 534.34,308.17 531.09,305.58 535.24,305.40" fill="#fff" stroke="#f08a24" stroke-width="0.9"/>
<clipPath id="c78"><rect x="536.70" y="287.40" width="30" height="40"/></clipPath>
<polygon points="536.70,301.50 538.16,305.40 542.31,305.58 539.06,308.17 540.17,312.17 536.70,309.88 533.23,312.17 534.34,308.17 531.09,305.58 535.24,305.40" fill="#f08a24" stroke="#f08a24" stroke-width="0.9" clip-path="url(#c78)"/>
<polygon points="533.70,319.20 535.16,323.10 539.31,323.28 536.06,325.87 537.17,329.87 533.70,327.58 530.23,329.87 531.34,325.87 528.09,323.28 532.24,323.10" fill="#fff" stroke="#f08a24" stroke-width="0.9"/>
<clipPath id="c79"><rect x="533.70" y="305.10" width="30" height="40"/></clipPath>
<polygon points="533.70,319.20 535.16,323.10 539.31,323.28 536.06,325.87 537.17,329.87 533.70,327.58 530.23,329.87 531.34,325.87 528.09,323.28 532.24,323.10" fill="#f08a24" stroke="#f08a24" stroke-width="0.9" clip-path="url(#c79)"/>
<polygon points="504.20,329.60 505.66,333.50 509.81,333.68 506.56,336.27 507.67,340.27 504.20,337.98 500.73,340.27 501.84,336.27 498.59,333.68 502.74,333.50" fill="#fff" stroke="#f08a24" stroke-width="0.9"/>
<clipPath id="c80"><rect x="504.20" y="315.50" width="30" height="40"/></clipPath>
<polygon points="504.20,329.60 505.66,333.50 509.81,333.68 506.56,336.27 507.67,340.27 504.20,337.98 500.73,340.27 501.84,336.27 498.59,333.68 502.74,333.50" fill="#f08a24" stroke="#f08a24" stroke-width="0.9" clip-path="url(#c80)"/>
<polygon points="503.30,353.50 504.76,357.40 508.91,357.58 505.66,360.17 506.77,364.17 503.30,361.88 499.83,364.17 500.94,360.17 497.69,357.58 501.84,357.40" fill="#fff" stroke="#f08a24" stroke-width="0.9"/>
<clipPath id="c81"><rect x="503.30" y="339.40" width="30" height="40"/></clipPath>
<polygon points="503.30,353.50 504.76,357.40 508.91,357.58 505.66,360.17 506.77,364.17 503.30,361.88 499.83,364.17 500.94,360.17 497.69,357.58 501.84,357.40" fill="#f08a24" stroke="#f08a24" stroke-width="0.9" clip-path="url(#c81)"/>
<polygon points="527.80,374.10 529.26,378.00 533.41,378.18 530.16,380.77 531.27,384.77 527.80,382.48 524.33,384.77 525.44,380.77 522.19,378.18 526.34,378.00" fill="#fff" stroke="#f08a24" stroke-width="0.9"/>
<clipPath id="c82"><rect x="527.80" y="360.00" width="30" height="40"/></clipPath>
<polygon points="527.80,374.10 529.26,378.00 533.41,378.18 530.16,380.77 531.27,384.77 527.80,382.48 524.33,384.77 525.44,380.77 522.19,378.18 526.34,378.00" fill="#f08a24" stroke="#f08a24" stroke-width="0.9" clip-path="url(#c82)"/>
<polygon points="505.10,382.70 506.56,386.60 510.71,386.78 507.46,389.37 508.57,393.37 505.10,391.08 501.63,393.37 502.74,389.37 499.49,386.78 503.64,386.60" fill="#d9d9d9" stroke="#f08a24" stroke-width="0.9"/>
<clipPath id="c83"><rect x="505.10" y="368.60" width="30" height="40"/></clipPath>
<polygon points="505.10,382.70 506.56,386.60 510.71,386.78 507.46,389.37 508.57,393.37 505.10,391.08 501.63,393.37 502.74,389.37 499.49,386.78 503.64,386.60" fill="#f08a24" stroke="#f08a24" stroke-width="0.9" clip-path="url(#c83)"/>
<polygon points="515.10,402.90 516.56,406.80 520.71,406.98 517.46,409.57 518.57,413.57 515.10,411.28 511.63,413.57 512.74,409.57 509.49,406.98 513.64,406.80" fill="#d9d9d9" stroke="#f08a24" stroke-width="0.9"/>
<clipPath id="c84"><rect x="515.10" y="388.80" width="30" height="40"/></clipPath>
<polygon points="515.10,402.90 516.56,406.80 520.71,406.98 517.46,409.57 518.57,413.57 515.10,411.28 511.63,413.57 512.74,409.57 509.49,406.98 513.64,406.80" fill="#f08a24" stroke="#f08a24" stroke-width="0.9" clip-path="url(#c84)"/>
<polygon points="542.30,414.40 543.76,418.30 547.91,418.48 544.66,421.07 545.77,425.07 542.30,422.78 538.83,425.07 539.94,421.07 536.69,418.48 540.84,418.30" fill="#d9d9d9" stroke="#f08a24" stroke-width="0.9"/>
<clipPath id="c85"><rect x="542.30" y="400.30" width="30" height="40"/></clipPath>
<polygon points="542.30,414.40 543.76,418.30 547.91,418.48 544.66,421.07 545.77,425.07 542.30,422.78 538.83,425.07 539.94,421.07 536.69,418.48 540.84,418.30" fill="#f08a24" stroke="#f08a24" stroke-width="0.9" clip-path="url(#c85)"/>
<polygon points="530.70,428.70 532.16,432.60 536.31,432.78 533.06,435.37 534.17,439.37 530.70,437.08 527.23,439.37 528.34,435.37 525.09,432.78 529.24,432.60" fill="#d9d9d9" stroke="#f08a24" stroke-width="0.9"/>
<clipPath id="c86"><rect x="530.70" y="414.60" width="30" height="40"/></clipPath>
<polygon points="530.70,428.70 532.16,432.60 536.31,432.78 533.06,435.37 534.17,439.37 530.70,437.08 527.23,439.37 528.34,435.37 525.09,432.78 529.24,432.60" fill="#f08a24" stroke="#f08a24" stroke-width="0.9" clip-path="url(#c86)"/>
<polygon points="556.40,440.80 557.86,444.70 562.01,444.88 558.76,447.47 559.87,451.47 556.40,449.18 552.93,451.47 554.04,447.47 550.79,444.88 554.94,444.70" fill="#d9d9d9" stroke="#f08a24" stroke-width="0.9"/>
<clipPath id="c87"><rect x="556.40" y="426.70" width="30" height="40"/></clipPath>
<polygon points="556.40,440.80 557.86,444.70 562.01,444.88 558.76,447.47 559.87,451.47 556.40,449.18 552.93,451.47 554.04,447.47 550.79,444.88 554.94,444.70" fill="#f08a24" stroke="#f08a24" stroke-width="0.9" clip-path="url(#c87)"/>
<polygon points="598.70,464.10 600.16,468.00 604.31,468.18 601.06,470.77 602.17,474.77 598.70,472.48 595.23,474.77 596.34,470.77 593.09,468.18 597.24,468.00" fill="#d9d9d9" stroke="#f08a24" stroke-width="0.9"/>
<clipPath id="c88"><rect x="598.70" y="450.00" width="30" height="40"/></clipPath>
<polygon points="598.70,464.10 600.16,468.00 604.31,468.18 601.06,470.77 602.17,474.77 598.70,472.48 595.23,474.77 596.34,470.77 593.09,468.18 597.24,468.00" fill="#f08a24" stroke="#f08a24" stroke-width="0.9" clip-path="url(#c88)"/>
<polygon points="735.10,475.30 736.56,479.20 740.71,479.38 737.46,481.97 738.57,485.97 735.10,483.68 731.63,485.97 732.74,481.97 729.49,479.38 733.64,479.20" fill="#d9d9d9" stroke="#f08a24" stroke-width="0.9"/>
<clipPath id="c89"><rect x="735.10" y="461.20" width="30" height="40"/></clipPath>
<polygon points="735.10,475.30 736.56,479.20 740.71,479.38 737.46,481.97 738.57,485.97 735.10,483.68 731.63,485.97 732.74,481.97 729.49,479.38 733.64,479.20" fill="#f08a24" stroke="#f08a24" stroke-width="0.9" clip-path="url(#c89)"/>
<polygon points="583.00,492.40 584.46,496.30 588.61,496.48 585.36,499.07 586.47,503.07 583.00,500.78 579.53,503.07 580.64,499.07 577.39,496.48 581.54,496.30" fill="#d9d9d9" stroke="#f08a24" stroke-width="0.9"/>
<clipPath id="c90"><rect x="583.00" y="478.30" width="30" height="40"/></clipPath>
<polygon points="583.00,492.40 584.46,496.30 588.61,496.48 585.36,499.07 586.47,503.07 583.00,500.78 579.53,503.07 580.64,499.07 577.39,496.48 581.54,496.30" fill="#f08a24" stroke="#f08a24" stroke-width="0.9" clip-path="url(#c90)"/>
<polygon points="534.60,498.10 536.06,502.00 540.21,502.18 536.96,504.77 538.07,508.77 534.60,506.48 531.13,508.77 532.24,504.77 528.99,502.18 533.14,502.00" fill="#d9d9d9" stroke="#f08a24" stroke-width="0.9"/>
<clipPath id="c91"><rect x="534.60" y="484.00" width="30" height="40"/></clipPath>
<polygon points="534.60,498.10 536.06,502.00 540.21,502.18 536.96,504.77 538.07,508.77 534.60,506.48 531.13,508.77 532.24,504.77 528.99,502.18 533.14,502.00" fill="#f08a24" stroke="#f08a24" stroke-width="0.9" clip-path="url(#c91)"/>
<polygon points="554.40,528.50 555.86,532.40 560.01,532.58 556.76,535.17 557.87,539.17 554.40,536.88 550.93,539.17 552.04,535.17 548.79,532.58 552.94,532.40" fill="#fff" stroke="#f08a24" stroke-width="0.9"/>
<clipPath id="c92"><rect x="554.40" y="514.40" width="30" height="40"/></clipPath>
<polygon points="554.40,528.50 555.86,532.40 560.01,532.58 556.76,535.17 557.87,539.17 554.40,536.88 550.93,539.17 552.04,535.17 548.79,532.58 552.94,532.40" fill="#f08a24" stroke="#f08a24" stroke-width="0.9" clip-path="url(#c92)"/>
<polygon points="521.00,545.60 522.46,549.50 526.61,549.68 523.36,552.27 524.47,556.27 521.00,553.98 517.53,556.27 518.64,552.27 515.39,549.68 519.54,549.50" fill="#fff" stroke="#f08a24" stroke-width="0.9"/>
<clipPath id="c93"><rect x="521.00" y="531.50" width="30" height="40"/></clipPath>
<polygon points="521.00,545.60 522.46,549.50 526.61,549.68 523.36,552.27 524.47,556.27 521.00,553.98 517.53,556.27 518.64,552.27 515.39,549.68 519.54,549.50" fill="#f08a24" stroke="#f08a24" stroke-width="0.9" clip-path="url(#c93)"/>
<polygon points="520.40,557.10 521.86,561.00 526.01,561.18 522.76,563.77 523.87,567.77 520.40,565.48 516.93,567.77 518.04,563.77 514.79,561.18 518.94,561.00" fill="#fff" stroke="#f08a24" stroke-width="0.9"/>
<clipPath id="c94"><rect x="520.40" y="543.00" width="30" height="40"/></clipPath>
<polygon points="520.40,557.10 521.86,561.00 526.01,561.18 522.76,563.77 523.87,567.77 520.40,565.48 516.93,567.77 518.04,563.77 514.79,561.18 518.94,561.00" fill="#f08a24" stroke="#f08a24" stroke-width="0.9" clip-path="url(#c94)"/>
<polygon points="465.80,574.30 467.26,578.20 471.41,578.38 468.16,580.97 469.27,584.97 465.80,582.68 462.33,584.97 463.44,580.97 460.19,578.38 464.34,578.20" fill="#fff" stroke="#f08a24" stroke-width="0.9"/>
<clipPath id="c95"><rect x="465.80" y="560.20" width="30" height="40"/></clipPath>
<polygon points="465.80,574.30 467.26,578.20 471.41,578.38 468.16,580.97 469.27,584.97 465.80,582.68 462.33,584.97 463.44,580.97 460.19,578.38 464.34,578.20" fill="#f08a24" stroke="#f08a24" stroke-width="0.9" clip-path="url(#c95)"/>
<polyline points="856.1,74.8 862.0,91.9 842.0,103.2 921.7,126.5 924.1,144.5 992.0,156.0 929.1,179.1 865.0,190.9 883.9,208.0 909.3,219.5 908.7,243.0 916.1,260.4 946.2,272.2 964.8,295.6 943.9,306.8 907.8,324.5 888.6,335.8 875.9,359.1 907.8,380.1 895.1,388.6 868.8,408.2 941.5,420.3 933.5,434.6 947.7,446.7 1013.2,470.0 1102.7,481.2 897.5,498.3 929.4,504.0 940.3,534.4 899.5,551.5 922.6,563.0 828.6,580.2" fill="none" stroke="#e5157f" stroke-width="1.5" stroke-linejoin="round"/>
<polygon points="856.10,68.90 857.56,72.80 861.71,72.98 858.46,75.57 859.57,79.57 856.10,77.28 852.63,79.57 853.74,75.57 850.49,72.98 854.64,72.80" fill="#fff" stroke="#e5157f" stroke-width="0.6"/>
<polygon points="856.10,68.90 857.56,72.80 861.71,72.98 858.46,75.57 859.57,79.57 856.10,77.28 852.63,79.57 853.74,75.57 850.49,72.98 854.64,72.80" fill="#e5157f" stroke="#e5157f" stroke-width="0.6"/>
<polygon points="862.00,86.00 863.46,89.90 867.61,90.08 864.36,92.67 865.47,96.67 862.00,94.38 858.53,96.67 859.64,92.67 856.39,90.08 860.54,89.90" fill="#fff" stroke="#e5157f" stroke-width="0.6"/>
<polygon points="862.00,86.00 863.46,89.90 867.61,90.08 864.36,92.67 865.47,96.67 862.00,94.38 858.53,96.67 859.64,92.67 856.39,90.08 860.54,89.90" fill="#e5157f" stroke="#e5157f" stroke-width="0.6"/>
<polygon points="842.00,97.30 843.46,101.20 847.61,101.38 844.36,103.97 845.47,107.97 842.00,105.68 838.53,107.97 839.64,103.97 836.39,101.38 840.54,101.20" fill="#fff" stroke="#e5157f" stroke-width="0.6"/>
<polygon points="842.00,97.30 843.46,101.20 847.61,101.38 844.36,103.97 845.47,107.97 842.00,105.68 838.53,107.97 839.64,103.97 836.39,101.38 840.54,101.20" fill="#e5157f" stroke="#e5157f" stroke-width="0.6"/>
<polygon points="921.70,120.60 923.16,124.50 927.31,124.68 924.06,127.27 925.17,131.27 921.70,128.98 918.23,131.27 919.34,127.27 916.09,124.68 920.24,124.50" fill="#fff" stroke="#e5157f" stroke-width="0.6"/>
<polygon points="921.70,120.60 923.16,124.50 927.31,124.68 924.06,127.27 925.17,131.27 921.70,128.98 918.23,131.27 919.34,127.27 916.09,124.68 920.24,124.50" fill="#e5157f" stroke="#e5157f" stroke-width="0.6"/>
<polygon points="924.10,138.60 925.56,142.50 929.71,142.68 926.46,145.27 927.57,149.27 924.10,146.98 920.63,149.27 921.74,145.27 918.49,142.68 922.64,142.50" fill="#fff" stroke="#e5157f" stroke-width="0.6"/>
<polygon points="924.10,138.60 925.56,142.50 929.71,142.68 926.46,145.27 927.57,149.27 924.10,146.98 920.63,149.27 921.74,145.27 918.49,142.68 922.64,142.50" fill="#e5157f" stroke="#e5157f" stroke-width="0.6"/>
<polygon points="992.00,150.10 993.46,154.00 997.61,154.18 994.36,156.77 995.47,160.77 992.00,158.48 988.53,160.77 989.64,156.77 986.39,154.18 990.54,154.00" fill="#fff" stroke="#e5157f" stroke-width="0.6"/>
<polygon points="992.00,150.10 993.46,154.00 997.61,154.18 994.36,156.77 995.47,160.77 992.00,158.48 988.53,160.77 989.64,156.77 986.39,154.18 990.54,154.00" fill="#e5157f" stroke="#e5157f" stroke-width="0.6"/>
<polygon points="929.10,173.20 930.56,177.10 934.71,177.28 931.46,179.87 932.57,183.87 929.10,181.58 925.63,183.87 926.74,179.87 923.49,177.28 927.64,177.10" fill="#fff" stroke="#e5157f" stroke-width="0.6"/>
<polygon points="929.10,173.20 930.56,177.10 934.71,177.28 931.46,179.87 932.57,183.87 929.10,181.58 925.63,183.87 926.74,179.87 923.49,177.28 927.64,177.10" fill="#e5157f" stroke="#e5157f" stroke-width="0.6"/>
<polygon points="865.00,185.00 866.46,188.90 870.61,189.08 867.36,191.67 868.47,195.67 865.00,193.38 861.53,195.67 862.64,191.67 859.39,189.08 863.54,188.90" fill="#fff" stroke="#e5157f" stroke-width="0.6"/>
<polygon points="865.00,185.00 866.46,188.90 870.61,189.08 867.36,191.67 868.47,195.67 865.00,193.38 861.53,195.67 862.64,191.67 859.39,189.08 863.54,188.90" fill="#e5157f" stroke="#e5157f" stroke-width="0.6"/>
<polygon points="883.90,202.10 885.36,206.00 889.51,206.18 886.26,208.77 887.37,212.77 883.90,210.48 880.43,212.77 881.54,208.77 878.29,206.18 882.44,206.00" fill="#fff" stroke="#e5157f" stroke-width="0.6"/>
<polygon points="883.90,202.10 885.36,206.00 889.51,206.18 886.26,208.77 887.37,212.77 883.90,210.48 880.43,212.77 881.54,208.77 878.29,206.18 882.44,206.00" fill="#e5157f" stroke="#e5157f" stroke-width="0.6"/>
<polygon points="909.30,213.60 910.76,217.50 914.91,217.68 911.66,220.27 912.77,224.27 909.30,221.98 905.83,224.27 906.94,220.27 903.69,217.68 907.84,217.50" fill="#fff" stroke="#e5157f" stroke-width="0.6"/>
<polygon points="909.30,213.60 910.76,217.50 914.91,217.68 911.66,220.27 912.77,224.27 909.30,221.98 905.83,224.27 906.94,220.27 903.69,217.68 907.84,217.50" fill="#e5157f" stroke="#e5157f" stroke-width="0.6"/>
<polygon points="908.70,237.10 910.16,241.00 914.31,241.18 911.06,243.77 912.17,247.77 908.70,245.48 905.23,247.77 906.34,243.77 903.09,241.18 907.24,241.00" fill="#fff" stroke="#e5157f" stroke-width="0.6"/>
<polygon points="908.70,237.10 910.16,241.00 914.31,241.18 911.06,243.77 912.17,247.77 908.70,245.48 905.23,247.77 906.34,243.77 903.09,241.18 907.24,241.00" fill="#e5157f" stroke="#e5157f" stroke-width="0.6"/>
<polygon points="916.10,254.50 917.56,258.40 921.71,258.58 918.46,261.17 919.57,265.17 916.10,262.88 912.63,265.17 913.74,261.17 910.49,258.58 914.64,258.40" fill="#fff" stroke="#e5157f" stroke-width="0.6"/>
<polygon points="916.10,254.50 917.56,258.40 921.71,258.58 918.46,261.17 919.57,265.17 916.10,262.88 912.63,265.17 913.74,261.17 910.49,258.58 914.64,258.40" fill="#e5157f" stroke="#e5157f" stroke-width="0.6"/>
<polygon points="946.20,266.30 947.66,270.20 951.81,270.38 948.56,272.97 949.67,276.97 946.20,274.68 942.73,276.97 943.84,272.97 940.59,270.38 944.74,270.20" fill="#fff" stroke="#e5157f" stroke-width="0.6"/>
<polygon points="946.20,266.30 947.66,270.20 951.81,270.38 948.56,272.97 949.67,276.97 946.20,274.68 942.73,276.97 943.84,272.97 940.59,270.38 944.74,270.20" fill="#e5157f" stroke="#e5157f" stroke-width="0.6"/>
<polygon points="964.80,289.70 966.26,293.60 970.41,293.78 967.16,296.37 968.27,300.37 964.80,298.08 961.33,300.37 962.44,296.37 959.19,293.78 963.34,293.60" fill="#fff" stroke="#e5157f" stroke-width="0.6"/>
<polygon points="964.80,289.70 966.26,293.60 970.41,293.78 967.16,296.37 968.27,300.37 964.80,298.08 961.33,300.37 962.44,296.37 959.19,293.78 963.34,293.60" fill="#e5157f" stroke="#e5157f" stroke-width="0.6"/>
<polygon points="943.90,300.90 945.36,304.80 949.51,304.98 946.26,307.57 947.37,311.57 943.90,309.28 940.43,311.57 941.54,307.57 938.29,304.98 942.44,304.80" fill="#fff" stroke="#e5157f" stroke-width="0.6"/>
<polygon points="943.90,300.90 945.36,304.80 949.51,304.98 946.26,307.57 947.37,311.57 943.90,309.28 940.43,311.57 941.54,307.57 938.29,304.98 942.44,304.80" fill="#e5157f" stroke="#e5157f" stroke-width="0.6"/>
<polygon points="907.80,318.60 909.26,322.50 913.41,322.68 910.16,325.27 911.27,329.27 907.80,326.98 904.33,329.27 905.44,325.27 902.19,322.68 906.34,322.50" fill="#fff" stroke="#e5157f" stroke-width="0.6"/>
<polygon points="907.80,318.60 909.26,322.50 913.41,322.68 910.16,325.27 911.27,329.27 907.80,326.98 904.33,329.27 905.44,325.27 902.19,322.68 906.34,322.50" fill="#e5157f" stroke="#e5157f" stroke-width="0.6"/>
<polygon points="888.60,329.90 890.06,333.80 894.21,333.98 890.96,336.57 892.07,340.57 888.60,338.28 885.13,340.57 886.24,336.57 882.99,333.98 887.14,333.80" fill="#fff" stroke="#e5157f" stroke-width="0.6"/>
<polygon points="888.60,329.90 890.06,333.80 894.21,333.98 890.96,336.57 892.07,340.57 888.60,338.28 885.13,340.57 886.24,336.57 882.99,333.98 887.14,333.80" fill="#e5157f" stroke="#e5157f" stroke-width="0.6"/>
<polygon points="875.90,353.20 877.36,357.10 881.51,357.28 878.26,359.87 879.37,363.87 875.90,361.58 872.43,363.87 873.54,359.87 870.29,357.28 874.44,357.10" fill="#fff" stroke="#e5157f" stroke-width="0.6"/>
<polygon points="875.90,353.20 877.36,357.10 881.51,357.28 878.26,359.87 879.37,363.87 875.90,361.58 872.43,363.87 873.54,359.87 870.29,357.28 874.44,357.10" fill="#e5157f" stroke="#e5157f" stroke-width="0.6"/>
<polygon points="907.80,374.20 909.26,378.10 913.41,378.28 910.16,380.87 911.27,384.87 907.80,382.58 904.33,384.87 905.44,380.87 902.19,378.28 906.34,378.10" fill="#fff" stroke="#e5157f" stroke-width="0.6"/>
<polygon points="907.80,374.20 909.26,378.10 913.41,378.28 910.16,380.87 911.27,384.87 907.80,382.58 904.33,384.87 905.44,380.87 902.19,378.28 906.34,378.10" fill="#e5157f" stroke="#e5157f" stroke-width="0.6"/>
<polygon points="895.10,382.70 896.56,386.60 900.71,386.78 897.46,389.37 898.57,393.37 895.10,391.08 891.63,393.37 892.74,389.37 889.49,386.78 893.64,386.60" fill="#d9d9d9" stroke="#e5157f" stroke-width="0.6"/>
<polygon points="895.10,382.70 896.56,386.60 900.71,386.78 897.46,389.37 898.57,393.37 895.10,391.08 891.63,393.37 892.74,389.37 889.49,386.78 893.64,386.60" fill="#e5157f" stroke="#e5157f" stroke-width="0.6"/>
<polygon points="868.80,402.30 870.26,406.20 874.41,406.38 871.16,408.97 872.27,412.97 868.80,410.68 865.33,412.97 866.44,408.97 863.19,406.38 867.34,406.20" fill="#d9d9d9" stroke="#e5157f" stroke-width="0.6"/>
<polygon points="868.80,402.30 870.26,406.20 874.41,406.38 871.16,408.97 872.27,412.97 868.80,410.68 865.33,412.97 866.44,408.97 863.19,406.38 867.34,406.20" fill="#e5157f" stroke="#e5157f" stroke-width="0.6"/>
<polygon points="941.50,414.40 942.96,418.30 947.11,418.48 943.86,421.07 944.97,425.07 941.50,422.78 938.03,425.07 939.14,421.07 935.89,418.48 940.04,418.30" fill="#d9d9d9" stroke="#e5157f" stroke-width="0.6"/>
<polygon points="941.50,414.40 942.96,418.30 947.11,418.48 943.86,421.07 944.97,425.07 941.50,422.78 938.03,425.07 939.14,421.07 935.89,418.48 940.04,418.30" fill="#e5157f" stroke="#e5157f" stroke-width="0.6"/>
<polygon points="933.50,428.70 934.96,432.60 939.11,432.78 935.86,435.37 936.97,439.37 933.50,437.08 930.03,439.37 931.14,435.37 927.89,432.78 932.04,432.60" fill="#d9d9d9" stroke="#e5157f" stroke-width="0.6"/>
<polygon points="933.50,428.70 934.96,432.60 939.11,432.78 935.86,435.37 936.97,439.37 933.50,437.08 930.03,439.37 931.14,435.37 927.89,432.78 932.04,432.60" fill="#e5157f" stroke="#e5157f" stroke-width="0.6"/>
<polygon points="947.70,440.80 949.16,444.70 953.31,444.88 950.06,447.47 951.17,451.47 947.70,449.18 944.23,451.47 945.34,447.47 942.09,444.88 946.24,444.70" fill="#d9d9d9" stroke="#e5157f" stroke-width="0.6"/>
<polygon points="947.70,440.80 949.16,444.70 953.31,444.88 950.06,447.47 951.17,451.47 947.70,449.18 944.23,451.47 945.34,447.47 942.09,444.88 946.24,444.70" fill="#e5157f" stroke="#e5157f" stroke-width="0.6"/>
<polygon points="1013.20,464.10 1014.66,468.00 1018.81,468.18 1015.56,470.77 1016.67,474.77 1013.20,472.48 1009.73,474.77 1010.84,470.77 1007.59,468.18 1011.74,468.00" fill="#d9d9d9" stroke="#e5157f" stroke-width="0.6"/>
<polygon points="1013.20,464.10 1014.66,468.00 1018.81,468.18 1015.56,470.77 1016.67,474.77 1013.20,472.48 1009.73,474.77 1010.84,470.77 1007.59,468.18 1011.74,468.00" fill="#e5157f" stroke="#e5157f" stroke-width="0.6"/>
<polygon points="1102.70,475.30 1104.16,479.20 1108.31,479.38 1105.06,481.97 1106.17,485.97 1102.70,483.68 1099.23,485.97 1100.34,481.97 1097.09,479.38 1101.24,479.20" fill="#d9d9d9" stroke="#e5157f" stroke-width="0.6"/>
<polygon points="1102.70,475.30 1104.16,479.20 1108.31,479.38 1105.06,481.97 1106.17,485.97 1102.70,483.68 1099.23,485.97 1100.34,481.97 1097.09,479.38 1101.24,479.20" fill="#e5157f" stroke="#e5157f" stroke-width="0.6"/>
<polygon points="897.50,492.40 898.96,496.30 903.11,496.48 899.86,499.07 900.97,503.07 897.50,500.78 894.03,503.07 895.14,499.07 891.89,496.48 896.04,496.30" fill="#d9d9d9" stroke="#e5157f" stroke-width="0.6"/>
<polygon points="897.50,492.40 898.96,496.30 903.11,496.48 899.86,499.07 900.97,503.07 897.50,500.78 894.03,503.07 895.14,499.07 891.89,496.48 896.04,496.30" fill="#e5157f" stroke="#e5157f" stroke-width="0.6"/>
<polygon points="929.40,498.10 930.86,502.00 935.01,502.18 931.76,504.77 932.87,508.77 929.40,506.48 925.93,508.77 927.04,504.77 923.79,502.18 927.94,502.00" fill="#d9d9d9" stroke="#e5157f" stroke-width="0.6"/>
<polygon points="929.40,498.10 930.86,502.00 935.01,502.18 931.76,504.77 932.87,508.77 929.40,506.48 925.93,508.77 927.04,504.77 923.79,502.18 927.94,502.00" fill="#e5157f" stroke="#e5157f" stroke-width="0.6"/>
<polygon points="940.30,528.50 941.76,532.40 945.91,532.58 942.66,535.17 943.77,539.17 940.30,536.88 936.83,539.17 937.94,535.17 934.69,532.58 938.84,532.40" fill="#fff" stroke="#e5157f" stroke-width="0.6"/>
<polygon points="940.30,528.50 941.76,532.40 945.91,532.58 942.66,535.17 943.77,539.17 940.30,536.88 936.83,539.17 937.94,535.17 934.69,532.58 938.84,532.40" fill="#e5157f" stroke="#e5157f" stroke-width="0.6"/>
<polygon points="899.50,545.60 900.96,549.50 905.11,549.68 901.86,552.27 902.97,556.27 899.50,553.98 896.03,556.27 897.14,552.27 893.89,549.68 898.04,549.50" fill="#fff" stroke="#e5157f" stroke-width="0.6"/>
<polygon points="899.50,545.60 900.96,549.50 905.11,549.68 901.86,552.27 902.97,556.27 899.50,553.98 896.03,556.27 897.14,552.27 893.89,549.68 898.04,549.50" fill="#e5157f" stroke="#e5157f" stroke-width="0.6"/>
<polygon points="922.60,557.10 924.06,561.00 928.21,561.18 924.96,563.77 926.07,567.77 922.60,565.48 919.13,567.77 920.24,563.77 916.99,561.18 921.14,561.00" fill="#fff" stroke="#e5157f" stroke-width="0.6"/>
<polygon points="922.60,557.10 924.06,561.00 928.21,561.18 924.96,563.77 926.07,567.77 922.60,565.48 919.13,567.77 920.24,563.77 916.99,561.18 921.14,561.00" fill="#e5157f" stroke="#e5157f" stroke-width="0.6"/>
<polygon points="828.60,574.30 830.06,578.20 834.21,578.38 830.96,580.97 832.07,584.97 828.60,582.68 825.13,584.97 826.24,580.97 822.99,578.38 827.14,578.20" fill="#fff" stroke="#e5157f" stroke-width="0.6"/>
<polygon points="828.60,574.30 830.06,578.20 834.21,578.38 830.96,580.97 832.07,584.97 828.60,582.68 825.13,584.97 826.24,580.97 822.99,578.38 827.14,578.20" fill="#e5157f" stroke="#e5157f" stroke-width="0.6"/>
<polyline points="1436.3,76.3 1435.7,93.6 1431.9,104.5 1445.9,128.1 1442.0,145.8 1443.0,156.9 1435.3,180.5 1435.3,192.1 1435.9,209.3 1434.3,220.9 1433.4,243.9 1431.9,261.7 1430.5,273.3 1439.2,296.5 1398.9,308.5 1395.4,325.5 1394.2,337.5 1401.0,361.0 1403.7,381.3 1355.4,389.6 1404.0,409.9 1209.1,421.2 1411.4,435.9 1413.1,447.6 1403.3,470.9 1203.6,482.3 1432.0,500.6 1415.0,505.6 1429.6,535.3 1427.1,552.3 1427.1,564.7 1428.7,582.0" fill="none" stroke="#ec1c24" stroke-width="1.5" stroke-linejoin="round"/>
<polygon points="1436.30,68.90 1442.90,76.30 1436.30,83.70 1429.70,76.30" fill="#fff" stroke="#ec1c24" stroke-width="0.9"/>
<clipPath id="c96"><rect x="1416.30" y="46.30" width="40" height="30"/></clipPath>
<polygon points="1436.30,68.90 1442.90,76.30 1436.30,83.70 1429.70,76.30" fill="#ec1c24" stroke="#ec1c24" stroke-width="0.9" clip-path="url(#c96)"/>
<polygon points="1435.70,86.20 1442.30,93.60 1435.70,101.00 1429.10,93.60" fill="#fff" stroke="#ec1c24" stroke-width="0.9"/>
<clipPath id="c97"><rect x="1415.70" y="63.60" width="40" height="30"/></clipPath>
<polygon points="1435.70,86.20 1442.30,93.60 1435.70,101.00 1429.10,93.60" fill="#ec1c24" stroke="#ec1c24" stroke-width="0.9" clip-path="url(#c97)"/>
<polygon points="1431.90,97.10 1438.50,104.50 1431.90,111.90 1425.30,104.50" fill="#fff" stroke="#ec1c24" stroke-width="0.9"/>
<clipPath id="c98"><rect x="1411.90" y="74.50" width="40" height="30"/></clipPath>
<polygon points="1431.90,97.10 1438.50,104.50 1431.90,111.90 1425.30,104.50" fill="#ec1c24" stroke="#ec1c24" stroke-width="0.9" clip-path="url(#c98)"/>
<polygon points="1445.90,120.70 1452.50,128.10 1445.90,135.50 1439.30,128.10" fill="#fff" stroke="#ec1c24" stroke-width="0.9"/>
<clipPath id="c99"><rect x="1425.90" y="98.10" width="40" height="30"/></clipPath>
<polygon points="1445.90,120.70 1452.50,128.10 1445.90,135.50 1439.30,128.10" fill="#ec1c24" stroke="#ec1c24" stroke-width="0.9" clip-path="url(#c99)"/>
<polygon points="1442.00,138.40 1448.60,145.80 1442.00,153.20 1435.40,145.80" fill="#fff" stroke="#ec1c24" stroke-width="0.9"/>
<clipPath id="c100"><rect x="1422.00" y="115.80" width="40" height="30"/></clipPath>
<polygon points="1442.00,138.40 1448.60,145.80 1442.00,153.20 1435.40,145.80" fill="#ec1c24" stroke="#ec1c24" stroke-width="0.9" clip-path="url(#c100)"/>
<polygon points="1443.00,149.50 1449.60,156.90 1443.00,164.30 1436.40,156.90" fill="#fff" stroke="#ec1c24" stroke-width="0.9"/>
<clipPath id="c101"><rect x="1423.00" y="126.90" width="40" height="30"/></clipPath>
<polygon points="1443.00,149.50 1449.60,156.90 1443.00,164.30 1436.40,156.90" fill="#ec1c24" stroke="#ec1c24" stroke-width="0.9" clip-path="url(#c101)"/>
<polygon points="1435.30,173.10 1441.90,180.50 1435.30,187.90 1428.70,180.50" fill="#fff" stroke="#ec1c24" stroke-width="0.9"/>
<clipPath id="c102"><rect x="1415.30" y="150.50" width="40" height="30"/></clipPath>
<polygon points="1435.30,173.10 1441.90,180.50 1435.30,187.90 1428.70,180.50" fill="#ec1c24" stroke="#ec1c24" stroke-width="0.9" clip-path="url(#c102)"/>
<polygon points="1435.30,184.70 1441.90,192.10 1435.30,199.50 1428.70,192.10" fill="#fff" stroke="#ec1c24" stroke-width="0.9"/>
<clipPath id="c103"><rect x="1415.30" y="162.10" width="40" height="30"/></clipPath>
<polygon points="1435.30,184.70 1441.90,192.10 1435.30,199.50 1428.70,192.10" fill="#ec1c24" stroke="#ec1c24" stroke-width="0.9" clip-path="url(#c103)"/>
<polygon points="1435.90,201.90 1442.50,209.30 1435.90,216.70 1429.30,209.30" fill="#fff" stroke="#ec1c24" stroke-width="0.9"/>
<clipPath id="c104"><rect x="1415.90" y="179.30" width="40" height="30"/></clipPath>
<polygon points="1435.90,201.90 1442.50,209.30 1435.90,216.70 1429.30,209.30" fill="#ec1c24" stroke="#ec1c24" stroke-width="0.9" clip-path="url(#c104)"/>
<polygon points="1434.30,213.50 1440.90,220.90 1434.30,228.30 1427.70,220.90" fill="#fff" stroke="#ec1c24" stroke-width="0.9"/>
<clipPath id="c105"><rect x="1414.30" y="190.90" width="40" height="30"/></clipPath>
<polygon points="1434.30,213.50 1440.90,220.90 1434.30,228.30 1427.70,220.90" fill="#ec1c24" stroke="#ec1c24" stroke-width="0.9" clip-path="url(#c105)"/>
<polygon points="1433.40,236.50 1440.00,243.90 1433.40,251.30 1426.80,243.90" fill="#fff" stroke="#ec1c24" stroke-width="0.9"/>
<clipPath id="c106"><rect x="1413.40" y="213.90" width="40" height="30"/></clipPath>
<polygon points="1433.40,236.50 1440.00,243.90 1433.40,251.30 1426.80,243.90" fill="#ec1c24" stroke="#ec1c24" stroke-width="0.9" clip-path="url(#c106)"/>
<polygon points="1431.90,254.30 1438.50,261.70 1431.90,269.10 1425.30,261.70" fill="#fff" stroke="#ec1c24" stroke-width="0.9"/>
<clipPath id="c107"><rect x="1411.90" y="231.70" width="40" height="30"/></clipPath>
<polygon points="1431.90,254.30 1438.50,261.70 1431.90,269.10 1425.30,261.70" fill="#ec1c24" stroke="#ec1c24" stroke-width="0.9" clip-path="url(#c107)"/>
<polygon points="1430.50,265.90 1437.10,273.30 1430.50,280.70 1423.90,273.30" fill="#fff" stroke="#ec1c24" stroke-width="0.9"/>
<clipPath id="c108"><rect x="1410.50" y="243.30" width="40" height="30"/></clipPath>
<polygon points="1430.50,265.90 1437.10,273.30 1430.50,280.70 1423.90,273.30" fill="#ec1c24" stroke="#ec1c24" stroke-width="0.9" clip-path="url(#c108)"/>
<polygon points="1439.20,289.10 1445.80,296.50 1439.20,303.90 1432.60,296.50" fill="#fff" stroke="#ec1c24" stroke-width="0.9"/>
<clipPath id="c109"><rect x="1419.20" y="266.50" width="40" height="30"/></clipPath>
<polygon points="1439.20,289.10 1445.80,296.50 1439.20,303.90 1432.60,296.50" fill="#ec1c24" stroke="#ec1c24" stroke-width="0.9" clip-path="url(#c109)"/>
<polygon points="1398.90,301.10 1405.50,308.50 1398.90,315.90 1392.30,308.50" fill="#fff" stroke="#ec1c24" stroke-width="0.9"/>
<clipPath id="c110"><rect x="1378.90" y="278.50" width="40" height="30"/></clipPath>
<polygon points="1398.90,301.10 1405.50,308.50 1398.90,315.90 1392.30,308.50" fill="#ec1c24" stroke="#ec1c24" stroke-width="0.9" clip-path="url(#c110)"/>
<polygon points="1395.40,318.10 1402.00,325.50 1395.40,332.90 1388.80,325.50" fill="#fff" stroke="#ec1c24" stroke-width="0.9"/>
<clipPath id="c111"><rect x="1375.40" y="295.50" width="40" height="30"/></clipPath>
<polygon points="1395.40,318.10 1402.00,325.50 1395.40,332.90 1388.80,325.50" fill="#ec1c24" stroke="#ec1c24" stroke-width="0.9" clip-path="url(#c111)"/>
<polygon points="1394.20,330.10 1400.80,337.50 1394.20,344.90 1387.60,337.50" fill="#fff" stroke="#ec1c24" stroke-width="0.9"/>
<clipPath id="c112"><rect x="1374.20" y="307.50" width="40" height="30"/></clipPath>
<polygon points="1394.20,330.10 1400.80,337.50 1394.20,344.90 1387.60,337.50" fill="#ec1c24" stroke="#ec1c24" stroke-width="0.9" clip-path="url(#c112)"/>
<polygon points="1401.00,353.60 1407.60,361.00 1401.00,368.40 1394.40,361.00" fill="#fff" stroke="#ec1c24" stroke-width="0.9"/>
<clipPath id="c113"><rect x="1381.00" y="331.00" width="40" height="30"/></clipPath>
<polygon points="1401.00,353.60 1407.60,361.00 1401.00,368.40 1394.40,361.00" fill="#ec1c24" stroke="#ec1c24" stroke-width="0.9" clip-path="url(#c113)"/>
<polygon points="1403.70,373.90 1410.30,381.30 1403.70,388.70 1397.10,381.30" fill="#fff" stroke="#ec1c24" stroke-width="0.9"/>
<clipPath id="c114"><rect x="1383.70" y="351.30" width="40" height="30"/></clipPath>
<polygon points="1403.70,373.90 1410.30,381.30 1403.70,388.70 1397.10,381.30" fill="#ec1c24" stroke="#ec1c24" stroke-width="0.9" clip-path="url(#c114)"/>
<polygon points="1355.40,382.20 1362.00,389.60 1355.40,397.00 1348.80,389.60" fill="#d3d3d3" stroke="#ec1c24" stroke-width="0.9"/>
<clipPath id="c115"><rect x="1335.40" y="359.60" width="40" height="30"/></clipPath>
<polygon points="1355.40,382.20 1362.00,389.60 1355.40,397.00 1348.80,389.60" fill="#ec1c24" stroke="#ec1c24" stroke-width="0.9" clip-path="url(#c115)"/>
<polygon points="1404.00,402.50 1410.60,409.90 1404.00,417.30 1397.40,409.90" fill="#d3d3d3" stroke="#ec1c24" stroke-width="0.9"/>
<clipPath id="c116"><rect x="1384.00" y="379.90" width="40" height="30"/></clipPath>
<polygon points="1404.00,402.50 1410.60,409.90 1404.00,417.30 1397.40,409.90" fill="#ec1c24" stroke="#ec1c24" stroke-width="0.9" clip-path="url(#c116)"/>
<polygon points="1209.10,413.80 1215.70,421.20 1209.10,428.60 1202.50,421.20" fill="#d3d3d3" stroke="#ec1c24" stroke-width="0.9"/>
<clipPath id="c117"><rect x="1189.10" y="391.20" width="40" height="30"/></clipPath>
<polygon points="1209.10,413.80 1215.70,421.20 1209.10,428.60 1202.50,421.20" fill="#ec1c24" stroke="#ec1c24" stroke-width="0.9" clip-path="url(#c117)"/>
<polygon points="1411.40,428.50 1418.00,435.90 1411.40,443.30 1404.80,435.90" fill="#d3d3d3" stroke="#ec1c24" stroke-width="0.9"/>
<clipPath id="c118"><rect x="1391.40" y="405.90" width="40" height="30"/></clipPath>
<polygon points="1411.40,428.50 1418.00,435.90 1411.40,443.30 1404.80,435.90" fill="#ec1c24" stroke="#ec1c24" stroke-width="0.9" clip-path="url(#c118)"/>
<polygon points="1413.10,440.20 1419.70,447.60 1413.10,455.00 1406.50,447.60" fill="#d3d3d3" stroke="#ec1c24" stroke-width="0.9"/>
<clipPath id="c119"><rect x="1393.10" y="417.60" width="40" height="30"/></clipPath>
<polygon points="1413.10,440.20 1419.70,447.60 1413.10,455.00 1406.50,447.60" fill="#ec1c24" stroke="#ec1c24" stroke-width="0.9" clip-path="url(#c119)"/>
<polygon points="1403.30,463.50 1409.90,470.90 1403.30,478.30 1396.70,470.90" fill="#d3d3d3" stroke="#ec1c24" stroke-width="0.9"/>
<clipPath id="c120"><rect x="1383.30" y="440.90" width="40" height="30"/></clipPath>
<polygon points="1403.30,463.50 1409.90,470.90 1403.30,478.30 1396.70,470.90" fill="#ec1c24" stroke="#ec1c24" stroke-width="0.9" clip-path="url(#c120)"/>
<polygon points="1203.60,474.90 1210.20,482.30 1203.60,489.70 1197.00,482.30" fill="#d3d3d3" stroke="#ec1c24" stroke-width="0.9"/>
<clipPath id="c121"><rect x="1183.60" y="452.30" width="40" height="30"/></clipPath>
<polygon points="1203.60,474.90 1210.20,482.30 1203.60,489.70 1197.00,482.30" fill="#ec1c24" stroke="#ec1c24" stroke-width="0.9" clip-path="url(#c121)"/>
<polygon points="1432.00,493.20 1438.60,500.60 1432.00,508.00 1425.40,500.60" fill="#d3d3d3" stroke="#ec1c24" stroke-width="0.9"/>
<clipPath id="c122"><rect x="1412.00" y="470.60" width="40" height="30"/></clipPath>
<polygon points="1432.00,493.20 1438.60,500.60 1432.00,508.00 1425.40,500.60" fill="#ec1c24" stroke="#ec1c24" stroke-width="0.9" clip-path="url(#c122)"/>
<polygon points="1415.00,498.20 1421.60,505.60 1415.00,513.00 1408.40,505.60" fill="#d3d3d3" stroke="#ec1c24" stroke-width="0.9"/>
<clipPath id="c123"><rect x="1395.00" y="475.60" width="40" height="30"/></clipPath>
<polygon points="1415.00,498.20 1421.60,505.60 1415.00,513.00 1408.40,505.60" fill="#ec1c24" stroke="#ec1c24" stroke-width="0.9" clip-path="url(#c123)"/>
<polygon points="1429.60,527.90 1436.20,535.30 1429.60,542.70 1423.00,535.30" fill="#fff" stroke="#ec1c24" stroke-width="0.9"/>
<clipPath id="c124"><rect x="1409.60" y="505.30" width="40" height="30"/></clipPath>
<polygon points="1429.60,527.90 1436.20,535.30 1429.60,542.70 1423.00,535.30" fill="#ec1c24" stroke="#ec1c24" stroke-width="0.9" clip-path="url(#c124)"/>
<polygon points="1427.10,544.90 1433.70,552.30 1427.10,559.70 1420.50,552.30" fill="#fff" stroke="#ec1c24" stroke-width="0.9"/>
<clipPath id="c125"><rect x="1407.10" y="522.30" width="40" height="30"/></clipPath>
<polygon points="1427.10,544.90 1433.70,552.30 1427.10,559.70 1420.50,552.30" fill="#ec1c24" stroke="#ec1c24" stroke-width="0.9" clip-path="url(#c125)"/>
<polygon points="1427.10,557.30 1433.70,564.70 1427.10,572.10 1420.50,564.70" fill="#fff" stroke="#ec1c24" stroke-width="0.9"/>
<clipPath id="c126"><rect x="1407.10" y="534.70" width="40" height="30"/></clipPath>
<polygon points="1427.10,557.30 1433.70,564.70 1427.10,572.10 1420.50,564.70" fill="#ec1c24" stroke="#ec1c24" stroke-width="0.9" clip-path="url(#c126)"/>
<polygon points="1428.70,574.60 1435.30,582.00 1428.70,589.40 1422.10,582.00" fill="#fff" stroke="#ec1c24" stroke-width="0.9"/>
<clipPath id="c127"><rect x="1408.70" y="552.00" width="40" height="30"/></clipPath>
<polygon points="1428.70,574.60 1435.30,582.00 1428.70,589.40 1422.10,582.00" fill="#ec1c24" stroke="#ec1c24" stroke-width="0.9" clip-path="url(#c127)"/>
<polyline points="1746.0,76.3 1746.9,92.8 1747.5,105.2 1619.9,127.4 1648.5,145.1 1615.1,156.9 1628.7,180.0 1632.3,191.5 1596.8,209.2 1613.9,221.3 1590.2,244.0 1549.0,261.6 1556.0,273.4 1604.8,296.5 1658.8,308.3 1670.1,325.4 1679.5,337.2 1700.2,360.0 1684.0,380.7 1698.7,389.5 1695.8,409.6 1676.6,421.8 1650.0,436.0 1694.3,447.9 1734.2,470.9 1698.1,482.7 1698.7,499.9 1692.8,505.5 1778.5,535.9 1771.1,552.7 1783.8,564.5 1821.9,582.3" fill="none" stroke="#f08a24" stroke-width="1.5" stroke-linejoin="round"/>
<polygon points="1746.00,68.90 1752.80,76.30 1746.00,83.70 1739.20,76.30" fill="#fff" stroke="#f08a24" stroke-width="0.9"/>
<clipPath id="c128"><rect x="1746.00" y="56.30" width="30" height="40"/></clipPath>
<polygon points="1746.00,68.90 1752.80,76.30 1746.00,83.70 1739.20,76.30" fill="#f08a24" stroke="#f08a24" stroke-width="0.9" clip-path="url(#c128)"/>
<polygon points="1746.90,85.40 1753.70,92.80 1746.90,100.20 1740.10,92.80" fill="#fff" stroke="#f08a24" stroke-width="0.9"/>
<clipPath id="c129"><rect x="1746.90" y="72.80" width="30" height="40"/></clipPath>
<polygon points="1746.90,85.40 1753.70,92.80 1746.90,100.20 1740.10,92.80" fill="#f08a24" stroke="#f08a24" stroke-width="0.9" clip-path="url(#c129)"/>
<polygon points="1747.50,97.80 1754.30,105.20 1747.50,112.60 1740.70,105.20" fill="#fff" stroke="#f08a24" stroke-width="0.9"/>
<clipPath id="c130"><rect x="1747.50" y="85.20" width="30" height="40"/></clipPath>
<polygon points="1747.50,97.80 1754.30,105.20 1747.50,112.60 1740.70,105.20" fill="#f08a24" stroke="#f08a24" stroke-width="0.9" clip-path="url(#c130)"/>
<polygon points="1619.90,120.00 1626.70,127.40 1619.90,134.80 1613.10,127.40" fill="#fff" stroke="#f08a24" stroke-width="0.9"/>
<clipPath id="c131"><rect x="1619.90" y="107.40" width="30" height="40"/></clipPath>
<polygon points="1619.90,120.00 1626.70,127.40 1619.90,134.80 1613.10,127.40" fill="#f08a24" stroke="#f08a24" stroke-width="0.9" clip-path="url(#c131)"/>
<polygon points="1648.50,137.70 1655.30,145.10 1648.50,152.50 1641.70,145.10" fill="#fff" stroke="#f08a24" stroke-width="0.9"/>
<clipPath id="c132"><rect x="1648.50" y="125.10" width="30" height="40"/></clipPath>
<polygon points="1648.50,137.70 1655.30,145.10 1648.50,152.50 1641.70,145.10" fill="#f08a24" stroke="#f08a24" stroke-width="0.9" clip-path="url(#c132)"/>
<polygon points="1615.10,149.50 1621.90,156.90 1615.10,164.30 1608.30,156.90" fill="#fff" stroke="#f08a24" stroke-width="0.9"/>
<clipPath id="c133"><rect x="1615.10" y="136.90" width="30" height="40"/></clipPath>
<polygon points="1615.10,149.50 1621.90,156.90 1615.10,164.30 1608.30,156.90" fill="#f08a24" stroke="#f08a24" stroke-width="0.9" clip-path="url(#c133)"/>
<polygon points="1628.70,172.60 1635.50,180.00 1628.70,187.40 1621.90,180.00" fill="#fff" stroke="#f08a24" stroke-width="0.9"/>
<clipPath id="c134"><rect x="1628.70" y="160.00" width="30" height="40"/></clipPath>
<polygon points="1628.70,172.60 1635.50,180.00 1628.70,187.40 1621.90,180.00" fill="#f08a24" stroke="#f08a24" stroke-width="0.9" clip-path="url(#c134)"/>
<polygon points="1632.30,184.10 1639.10,191.50 1632.30,198.90 1625.50,191.50" fill="#fff" stroke="#f08a24" stroke-width="0.9"/>
<clipPath id="c135"><rect x="1632.30" y="171.50" width="30" height="40"/></clipPath>
<polygon points="1632.30,184.10 1639.10,191.50 1632.30,198.90 1625.50,191.50" fill="#f08a24" stroke="#f08a24" stroke-width="0.9" clip-path="url(#c135)"/>
<polygon points="1596.80,201.80 1603.60,209.20 1596.80,216.60 1590.00,209.20" fill="#fff" stroke="#f08a24" stroke-width="0.9"/>
<clipPath id="c136"><rect x="1596.80" y="189.20" width="30" height="40"/></clipPath>
<polygon points="1596.80,201.80 1603.60,209.20 1596.80,216.60 1590.00,209.20" fill="#f08a24" stroke="#f08a24" stroke-width="0.9" clip-path="url(#c136)"/>
<polygon points="1613.90,213.90 1620.70,221.30 1613.90,228.70 1607.10,221.30" fill="#fff" stroke="#f08a24" stroke-width="0.9"/>
<clipPath id="c137"><rect x="1613.90" y="201.30" width="30" height="40"/></clipPath>
<polygon points="1613.90,213.90 1620.70,221.30 1613.90,228.70 1607.10,221.30" fill="#f08a24" stroke="#f08a24" stroke-width="0.9" clip-path="url(#c137)"/>
<polygon points="1590.20,236.60 1597.00,244.00 1590.20,251.40 1583.40,244.00" fill="#fff" stroke="#f08a24" stroke-width="0.9"/>
<clipPath id="c138"><rect x="1590.20" y="224.00" width="30" height="40"/></clipPath>
<polygon points="1590.20,236.60 1597.00,244.00 1590.20,251.40 1583.40,244.00" fill="#f08a24" stroke="#f08a24" stroke-width="0.9" clip-path="url(#c138)"/>
<polygon points="1549.00,254.20 1555.80,261.60 1549.00,269.00 1542.20,261.60" fill="#fff" stroke="#f08a24" stroke-width="0.9"/>
<clipPath id="c139"><rect x="1549.00" y="241.60" width="30" height="40"/></clipPath>
<polygon points="1549.00,254.20 1555.80,261.60 1549.00,269.00 1542.20,261.60" fill="#f08a24" stroke="#f08a24" stroke-width="0.9" clip-path="url(#c139)"/>
<polygon points="1556.00,266.00 1562.80,273.40 1556.00,280.80 1549.20,273.40" fill="#fff" stroke="#f08a24" stroke-width="0.9"/>
<clipPath id="c140"><rect x="1556.00" y="253.40" width="30" height="40"/></clipPath>
<polygon points="1556.00,266.00 1562.80,273.40 1556.00,280.80 1549.20,273.40" fill="#f08a24" stroke="#f08a24" stroke-width="0.9" clip-path="url(#c140)"/>
<polygon points="1604.80,289.10 1611.60,296.50 1604.80,303.90 1598.00,296.50" fill="#fff" stroke="#f08a24" stroke-width="0.9"/>
<clipPath id="c141"><rect x="1604.80" y="276.50" width="30" height="40"/></clipPath>
<polygon points="1604.80,289.10 1611.60,296.50 1604.80,303.90 1598.00,296.50" fill="#f08a24" stroke="#f08a24" stroke-width="0.9" clip-path="url(#c141)"/>
<polygon points="1658.80,300.90 1665.60,308.30 1658.80,315.70 1652.00,308.30" fill="#fff" stroke="#f08a24" stroke-width="0.9"/>
<clipPath id="c142"><rect x="1658.80" y="288.30" width="30" height="40"/></clipPath>
<polygon points="1658.80,300.90 1665.60,308.30 1658.80,315.70 1652.00,308.30" fill="#f08a24" stroke="#f08a24" stroke-width="0.9" clip-path="url(#c142)"/>
<polygon points="1670.10,318.00 1676.90,325.40 1670.10,332.80 1663.30,325.40" fill="#fff" stroke="#f08a24" stroke-width="0.9"/>
<clipPath id="c143"><rect x="1670.10" y="305.40" width="30" height="40"/></clipPath>
<polygon points="1670.10,318.00 1676.90,325.40 1670.10,332.80 1663.30,325.40" fill="#f08a24" stroke="#f08a24" stroke-width="0.9" clip-path="url(#c143)"/>
<polygon points="1679.50,329.80 1686.30,337.20 1679.50,344.60 1672.70,337.20" fill="#fff" stroke="#f08a24" stroke-width="0.9"/>
<clipPath id="c144"><rect x="1679.50" y="317.20" width="30" height="40"/></clipPath>
<polygon points="1679.50,329.80 1686.30,337.20 1679.50,344.60 1672.70,337.20" fill="#f08a24" stroke="#f08a24" stroke-width="0.9" clip-path="url(#c144)"/>
<polygon points="1700.20,352.60 1707.00,360.00 1700.20,367.40 1693.40,360.00" fill="#fff" stroke="#f08a24" stroke-width="0.9"/>
<clipPath id="c145"><rect x="1700.20" y="340.00" width="30" height="40"/></clipPath>
<polygon points="1700.20,352.60 1707.00,360.00 1700.20,367.40 1693.40,360.00" fill="#f08a24" stroke="#f08a24" stroke-width="0.9" clip-path="url(#c145)"/>
<polygon points="1684.00,373.30 1690.80,380.70 1684.00,388.10 1677.20,380.70" fill="#fff" stroke="#f08a24" stroke-width="0.9"/>
<clipPath id="c146"><rect x="1684.00" y="360.70" width="30" height="40"/></clipPath>
<polygon points="1684.00,373.30 1690.80,380.70 1684.00,388.10 1677.20,380.70" fill="#f08a24" stroke="#f08a24" stroke-width="0.9" clip-path="url(#c146)"/>
<polygon points="1698.70,382.10 1705.50,389.50 1698.70,396.90 1691.90,389.50" fill="#d9d9d9" stroke="#f08a24" stroke-width="0.9"/>
<clipPath id="c147"><rect x="1698.70" y="369.50" width="30" height="40"/></clipPath>
<polygon points="1698.70,382.10 1705.50,389.50 1698.70,396.90 1691.90,389.50" fill="#f08a24" stroke="#f08a24" stroke-width="0.9" clip-path="url(#c147)"/>
<polygon points="1695.80,402.20 1702.60,409.60 1695.80,417.00 1689.00,409.60" fill="#d9d9d9" stroke="#f08a24" stroke-width="0.9"/>
<clipPath id="c148"><rect x="1695.80" y="389.60" width="30" height="40"/></clipPath>
<polygon points="1695.80,402.20 1702.60,409.60 1695.80,417.00 1689.00,409.60" fill="#f08a24" stroke="#f08a24" stroke-width="0.9" clip-path="url(#c148)"/>
<polygon points="1676.60,414.40 1683.40,421.80 1676.60,429.20 1669.80,421.80" fill="#d9d9d9" stroke="#f08a24" stroke-width="0.9"/>
<clipPath id="c149"><rect x="1676.60" y="401.80" width="30" height="40"/></clipPath>
<polygon points="1676.60,414.40 1683.40,421.80 1676.60,429.20 1669.80,421.80" fill="#f08a24" stroke="#f08a24" stroke-width="0.9" clip-path="url(#c149)"/>
<polygon points="1650.00,428.60 1656.80,436.00 1650.00,443.40 1643.20,436.00" fill="#d9d9d9" stroke="#f08a24" stroke-width="0.9"/>
<clipPath id="c150"><rect x="1650.00" y="416.00" width="30" height="40"/></clipPath>
<polygon points="1650.00,428.60 1656.80,436.00 1650.00,443.40 1643.20,436.00" fill="#f08a24" stroke="#f08a24" stroke-width="0.9" clip-path="url(#c150)"/>
<polygon points="1694.30,440.50 1701.10,447.90 1694.30,455.30 1687.50,447.90" fill="#d9d9d9" stroke="#f08a24" stroke-width="0.9"/>
<clipPath id="c151"><rect x="1694.30" y="427.90" width="30" height="40"/></clipPath>
<polygon points="1694.30,440.50 1701.10,447.90 1694.30,455.30 1687.50,447.90" fill="#f08a24" stroke="#f08a24" stroke-width="0.9" clip-path="url(#c151)"/>
<polygon points="1734.20,463.50 1741.00,470.90 1734.20,478.30 1727.40,470.90" fill="#d9d9d9" stroke="#f08a24" stroke-width="0.9"/>
<clipPath id="c152"><rect x="1734.20" y="450.90" width="30" height="40"/></clipPath>
<polygon points="1734.20,463.50 1741.00,470.90 1734.20,478.30 1727.40,470.90" fill="#f08a24" stroke="#f08a24" stroke-width="0.9" clip-path="url(#c152)"/>
<polygon points="1698.10,475.30 1704.90,482.70 1698.10,490.10 1691.30,482.70" fill="#d9d9d9" stroke="#f08a24" stroke-width="0.9"/>
<clipPath id="c153"><rect x="1698.10" y="462.70" width="30" height="40"/></clipPath>
<polygon points="1698.10,475.30 1704.90,482.70 1698.10,490.10 1691.30,482.70" fill="#f08a24" stroke="#f08a24" stroke-width="0.9" clip-path="url(#c153)"/>
<polygon points="1698.70,492.50 1705.50,499.90 1698.70,507.30 1691.90,499.90" fill="#d9d9d9" stroke="#f08a24" stroke-width="0.9"/>
<clipPath id="c154"><rect x="1698.70" y="479.90" width="30" height="40"/></clipPath>
<polygon points="1698.70,492.50 1705.50,499.90 1698.70,507.30 1691.90,499.90" fill="#f08a24" stroke="#f08a24" stroke-width="0.9" clip-path="url(#c154)"/>
<polygon points="1692.80,498.10 1699.60,505.50 1692.80,512.90 1686.00,505.50" fill="#d9d9d9" stroke="#f08a24" stroke-width="0.9"/>
<clipPath id="c155"><rect x="1692.80" y="485.50" width="30" height="40"/></clipPath>
<polygon points="1692.80,498.10 1699.60,505.50 1692.80,512.90 1686.00,505.50" fill="#f08a24" stroke="#f08a24" stroke-width="0.9" clip-path="url(#c155)"/>
<polygon points="1778.50,528.50 1785.30,535.90 1778.50,543.30 1771.70,535.90" fill="#fff" stroke="#f08a24" stroke-width="0.9"/>
<clipPath id="c156"><rect x="1778.50" y="515.90" width="30" height="40"/></clipPath>
<polygon points="1778.50,528.50 1785.30,535.90 1778.50,543.30 1771.70,535.90" fill="#f08a24" stroke="#f08a24" stroke-width="0.9" clip-path="url(#c156)"/>
<polygon points="1771.10,545.30 1777.90,552.70 1771.10,560.10 1764.30,552.70" fill="#fff" stroke="#f08a24" stroke-width="0.9"/>
<clipPath id="c157"><rect x="1771.10" y="532.70" width="30" height="40"/></clipPath>
<polygon points="1771.10,545.30 1777.90,552.70 1771.10,560.10 1764.30,552.70" fill="#f08a24" stroke="#f08a24" stroke-width="0.9" clip-path="url(#c157)"/>
<polygon points="1783.80,557.10 1790.60,564.50 1783.80,571.90 1777.00,564.50" fill="#fff" stroke="#f08a24" stroke-width="0.9"/>
<clipPath id="c158"><rect x="1783.80" y="544.50" width="30" height="40"/></clipPath>
<polygon points="1783.80,557.10 1790.60,564.50 1783.80,571.90 1777.00,564.50" fill="#f08a24" stroke="#f08a24" stroke-width="0.9" clip-path="url(#c158)"/>
<polygon points="1821.90,574.90 1828.70,582.30 1821.90,589.70 1815.10,582.30" fill="#fff" stroke="#f08a24" stroke-width="0.9"/>
<clipPath id="c159"><rect x="1821.90" y="562.30" width="30" height="40"/></clipPath>
<polygon points="1821.90,574.90 1828.70,582.30 1821.90,589.70 1815.10,582.30" fill="#f08a24" stroke="#f08a24" stroke-width="0.9" clip-path="url(#c159)"/>
<rect x="65.5" y="386.3" width="1074.5" height="137.3" fill="#b8b8b8" fill-opacity="0.18"/>
<rect x="1500" y="386.3" width="350.8" height="137.3" fill="#b8b8b8" fill-opacity="0.18"/>
<line x1="66.0" y1="129.3" x2="1841.2" y2="119.5" stroke="#000" stroke-width="2.6" stroke-dasharray="3.6 9.9"/>
<line x1="74.0" y1="280.6" x2="1836.0" y2="278.5" stroke="#000" stroke-width="2.6" stroke-dasharray="3.6 9.9"/>
<line x1="583.0" y1="58.5" x2="583.0" y2="62.0" stroke="#000" stroke-width="2.6"/>
<line x1="583.0" y1="72.5" x2="583.0" y2="76.0" stroke="#000" stroke-width="2.6"/>
<line x1="583.0" y1="104.3" x2="583.0" y2="108.0" stroke="#000" stroke-width="2.6"/>
<line x1="583.0" y1="117.5" x2="583.0" y2="121.0" stroke="#000" stroke-width="2.6"/>
<line x1="653.0" y1="129.5" x2="653.3" y2="312.0" stroke="#000" stroke-width="2.6" stroke-dasharray="3.6 9.9"/>
<line x1="654.2" y1="342.5" x2="654.8" y2="578.0" stroke="#000" stroke-width="2.6" stroke-dasharray="3.6 9.9"/>
<line x1="173.3" y1="130.6" x2="173.3" y2="142.5" stroke="#000" stroke-width="2.6"/>
<line x1="173.3" y1="153.0" x2="173.3" y2="165.0" stroke="#000" stroke-width="2.6"/>
<line x1="173.3" y1="175.5" x2="173.3" y2="187.4" stroke="#000" stroke-width="2.6"/>
<line x1="173.3" y1="231.0" x2="173.3" y2="243.0" stroke="#000" stroke-width="2.6"/>
<line x1="173.3" y1="253.6" x2="173.3" y2="264.7" stroke="#000" stroke-width="2.6"/>
<line x1="400.2" y1="277.5" x2="400.2" y2="288.8" stroke="#000" stroke-width="2.6"/>
<line x1="400.2" y1="300.0" x2="400.2" y2="311.5" stroke="#000" stroke-width="2.6"/>
<line x1="400.2" y1="323.0" x2="400.2" y2="334.5" stroke="#000" stroke-width="2.6"/>
<line x1="400.2" y1="346.5" x2="400.2" y2="358.0" stroke="#000" stroke-width="2.6"/>
<line x1="400.2" y1="369.0" x2="400.2" y2="380.5" stroke="#000" stroke-width="2.6"/>
<line x1="400.2" y1="392.0" x2="400.2" y2="403.0" stroke="#000" stroke-width="2.6"/>
<line x1="400.2" y1="414.5" x2="400.2" y2="421.5" stroke="#000" stroke-width="2.6"/>
<line x1="403.8" y1="476.0" x2="403.8" y2="487.4" stroke="#000" stroke-width="2.6"/>
<line x1="403.8" y1="499.5" x2="403.8" y2="511.3" stroke="#000" stroke-width="2.6"/>
<line x1="403.8" y1="522.5" x2="403.8" y2="533.8" stroke="#000" stroke-width="2.6"/>
<line x1="403.8" y1="545.0" x2="403.8" y2="556.5" stroke="#000" stroke-width="2.6"/>
<line x1="403.8" y1="568.5" x2="403.8" y2="580.0" stroke="#000" stroke-width="2.6"/>
<line x1="403.8" y1="591.0" x2="403.8" y2="594.0" stroke="#000" stroke-width="2.6"/>
<line x1="1733.4" y1="122.3" x2="1733.4" y2="134.0" stroke="#000" stroke-width="2.6"/>
<line x1="1733.4" y1="145.5" x2="1733.4" y2="157.0" stroke="#000" stroke-width="2.6"/>
<line x1="1733.4" y1="215.0" x2="1733.4" y2="226.5" stroke="#000" stroke-width="2.6"/>
<line x1="1733.4" y1="238.0" x2="1733.4" y2="249.5" stroke="#000" stroke-width="2.6"/>
<line x1="1733.4" y1="260.7" x2="1733.4" y2="271.5" stroke="#000" stroke-width="2.6"/>
<line x1="1556.8" y1="283.5" x2="1556.8" y2="296.4" stroke="#000" stroke-width="2.6"/>
<line x1="1556.8" y1="307.9" x2="1556.8" y2="319.4" stroke="#000" stroke-width="2.6"/>
<line x1="1556.8" y1="331.0" x2="1556.8" y2="342.5" stroke="#000" stroke-width="2.6"/>
<line x1="1556.8" y1="353.5" x2="1556.8" y2="365.0" stroke="#000" stroke-width="2.6"/>
<line x1="1556.8" y1="376.0" x2="1556.8" y2="387.6" stroke="#000" stroke-width="2.6"/>
<line x1="1556.8" y1="399.3" x2="1556.8" y2="410.8" stroke="#000" stroke-width="2.6"/>
<line x1="1556.8" y1="420.7" x2="1556.8" y2="434.0" stroke="#000" stroke-width="2.6"/>
<line x1="1556.8" y1="444.3" x2="1556.8" y2="456.0" stroke="#000" stroke-width="2.6"/>
<line x1="1556.8" y1="467.4" x2="1556.8" y2="469.6" stroke="#000" stroke-width="2.6"/>
<line x1="1558.4" y1="522.0" x2="1558.4" y2="533.6" stroke="#000" stroke-width="2.6"/>
<line x1="1558.4" y1="544.8" x2="1558.4" y2="556.7" stroke="#000" stroke-width="2.6"/>
<line x1="1558.4" y1="567.5" x2="1558.4" y2="579.3" stroke="#000" stroke-width="2.6"/>
<line x1="500.3" y1="54.0" x2="500.3" y2="635.0" stroke="#ec1c24" stroke-width="1.0" stroke-dasharray="1 2" opacity="0.8"/>
<line x1="488.9" y1="38.2" x2="499.3" y2="53.3" stroke="#ec1c24" stroke-width="1.6"/>
<text x="466.8" y="35.8" font-family="'Liberation Serif','Times New Roman',serif" font-size="16" font-weight="normal" font-style="normal" fill="#ec1c24" text-anchor="start" textLength="27.6" lengthAdjust="spacingAndGlyphs">0.36</text>
<line x1="996.5" y1="165.8" x2="1040.8" y2="200.6" stroke="#e5157f" stroke-width="2.0"/>
<line x1="1028.0" y1="243.5" x2="982.6" y2="289.1" stroke="#e5157f" stroke-width="2.0"/>
<line x1="187.3" y1="81.1" x2="230.7" y2="81.1" stroke="#000" stroke-width="1.7"/>
<polygon points="208.40,74.90 209.93,78.99 214.30,79.18 210.88,81.90 212.04,86.12 208.40,83.70 204.76,86.12 205.92,81.90 202.50,79.18 206.87,78.99" fill="#fff" stroke="#000" stroke-width="0.9"/>
<clipPath id="c160"><rect x="188.40" y="51.10" width="40" height="30"/></clipPath>
<polygon points="208.40,74.90 209.93,78.99 214.30,79.18 210.88,81.90 212.04,86.12 208.40,83.70 204.76,86.12 205.92,81.90 202.50,79.18 206.87,78.99" fill="#000" stroke="#000" stroke-width="0.9" clip-path="url(#c160)"/>
<text x="234.3" y="87.9" font-family="'Liberation Serif','Times New Roman',serif" font-size="19.5" font-weight="normal" font-style="normal" fill="#000" text-anchor="start" textLength="67.3" lengthAdjust="spacingAndGlyphs">Methane</text>
<line x1="194.2" y1="108.6" x2="236.9" y2="108.6" stroke="#ec1c24" stroke-width="1.7"/>
<polygon points="215.60,102.40 217.13,106.49 221.50,106.68 218.08,109.40 219.24,113.62 215.60,111.20 211.96,113.62 213.12,109.40 209.70,106.68 214.07,106.49" fill="#fff" stroke="#ec1c24" stroke-width="0.9"/>
<clipPath id="c161"><rect x="215.60" y="88.60" width="30" height="40"/></clipPath>
<polygon points="215.60,102.40 217.13,106.49 221.50,106.68 218.08,109.40 219.24,113.62 215.60,111.20 211.96,113.62 213.12,109.40 209.70,106.68 214.07,106.49" fill="#ec1c24" stroke="#ec1c24" stroke-width="0.9" clip-path="url(#c161)"/>
<text x="242.0" y="114.2" font-family="'Liberation Serif','Times New Roman',serif" font-size="19.5" font-weight="normal" font-style="normal" fill="#000" text-anchor="start" textLength="53.7" lengthAdjust="spacingAndGlyphs">Sulfate</text>
<line x1="618.6" y1="609.7" x2="664.4" y2="609.7" stroke="#f08a24" stroke-width="1.7"/>
<polygon points="641.20,603.50 642.73,607.59 647.10,607.78 643.68,610.50 644.84,614.72 641.20,612.30 637.56,614.72 638.72,610.50 635.30,607.78 639.67,607.59" fill="#fff" stroke="#f08a24" stroke-width="0.9"/>
<clipPath id="c162"><rect x="641.20" y="589.70" width="30" height="40"/></clipPath>
<polygon points="641.20,603.50 642.73,607.59 647.10,607.78 643.68,610.50 644.84,614.72 641.20,612.30 637.56,614.72 638.72,610.50 635.30,607.78 639.67,607.59" fill="#f08a24" stroke="#f08a24" stroke-width="0.9" clip-path="url(#c162)"/>
<text x="669.6" y="617.6" font-family="'Liberation Serif','Times New Roman',serif" font-size="21.5" font-weight="normal" font-style="normal" fill="#000" text-anchor="start" textLength="69.6" lengthAdjust="spacingAndGlyphs">TS/TOC</text>
<line x1="974.0" y1="610.5" x2="1019.2" y2="610.5" stroke="#e5157f" stroke-width="1.7"/>
<polygon points="996.40,604.30 997.93,608.39 1002.30,608.58 998.88,611.30 1000.04,615.52 996.40,613.10 992.76,615.52 993.92,611.30 990.50,608.58 994.87,608.39" fill="#fff" stroke="#e5157f" stroke-width="0.6"/>
<polygon points="996.40,604.30 997.93,608.39 1002.30,608.58 998.88,611.30 1000.04,615.52 996.40,613.10 992.76,615.52 993.92,611.30 990.50,608.58 994.87,608.39" fill="#e5157f" stroke="#e5157f" stroke-width="0.6"/>
<text x="1025.0" y="617.0" font-family="'Liberation Serif','Times New Roman',serif" font-size="20.3" font-weight="normal" font-style="normal" fill="#000" text-anchor="start" textLength="88.0" lengthAdjust="spacingAndGlyphs">TS content</text>
<line x1="1388.7" y1="618.0" x2="1434.8" y2="618.0" stroke="#ec1c24" stroke-width="1.7"/>
<polygon points="1411.90,610.40 1418.70,618.00 1411.90,625.60 1405.10,618.00" fill="#fff" stroke="#ec1c24" stroke-width="0.9"/>
<clipPath id="c163"><rect x="1391.90" y="588.00" width="40" height="30"/></clipPath>
<polygon points="1411.90,610.40 1418.70,618.00 1411.90,625.60 1405.10,618.00" fill="#ec1c24" stroke="#ec1c24" stroke-width="0.9" clip-path="url(#c163)"/>
<text x="1439.8" y="624.8" font-family="'Liberation Serif','Times New Roman',serif" font-size="20.8" font-weight="normal" font-style="normal" fill="#000" text-anchor="start" textLength="32.8" lengthAdjust="spacingAndGlyphs">TIC</text>
<line x1="1679.1" y1="620.3" x2="1724.5" y2="620.3" stroke="#f08a24" stroke-width="1.7"/>
<polygon points="1701.30,612.70 1708.10,620.30 1701.30,627.90 1694.50,620.30" fill="#fff" stroke="#f08a24" stroke-width="0.9"/>
<clipPath id="c164"><rect x="1701.30" y="600.30" width="30" height="40"/></clipPath>
<polygon points="1701.30,612.70 1708.10,620.30 1701.30,627.90 1694.50,620.30" fill="#f08a24" stroke="#f08a24" stroke-width="0.9" clip-path="url(#c164)"/>
<text x="1729.3" y="626.8" font-family="'Liberation Serif','Times New Roman',serif" font-size="20.5" font-weight="normal" font-style="normal" fill="#000" text-anchor="start" textLength="121.8" lengthAdjust="spacingAndGlyphs">Bulk Sediment</text>
<text x="90.6" y="206.6" font-family="'Liberation Serif','Times New Roman',serif" font-size="16.5" font-weight="bold" font-style="italic" fill="#000" text-anchor="start" textLength="189.5" lengthAdjust="spacingAndGlyphs">sulfate reduction rate slower</text>
<text x="91.0" y="227.0" font-family="'Liberation Serif','Times New Roman',serif" font-size="16.5" font-weight="bold" font-style="italic" fill="#000" text-anchor="start" textLength="173.6" lengthAdjust="spacingAndGlyphs">than sulfate replenish rate</text>
<text x="276.9" y="452.2" font-family="'Liberation Serif','Times New Roman',serif" font-size="16.5" font-weight="bold" font-style="italic" fill="#000" text-anchor="start" textLength="183.8" lengthAdjust="spacingAndGlyphs">sulfate reduction rate faster</text>
<text x="276.9" y="472.6" font-family="'Liberation Serif','Times New Roman',serif" font-size="16.5" font-weight="bold" font-style="italic" fill="#000" text-anchor="start" textLength="173.6" lengthAdjust="spacingAndGlyphs">than sulfate replenish rate</text>
<text x="551.5" y="94.9" font-family="'Liberation Serif','Times New Roman',serif" font-size="18" font-weight="bold" font-style="italic" fill="#000" text-anchor="start" textLength="75.3" lengthAdjust="spacingAndGlyphs">Oxic zone</text>
<text x="579.0" y="337.0" font-family="'Liberation Serif','Times New Roman',serif" font-size="18" font-weight="bold" font-style="italic" fill="#000" text-anchor="start" textLength="131.0" lengthAdjust="spacingAndGlyphs">Anaerobic zone</text>
<text x="666.6" y="459.2" font-family="'Liberation Serif','Times New Roman',serif" font-size="18" font-weight="bold" font-style="italic" fill="#000" text-anchor="start" textLength="144.5" lengthAdjust="spacingAndGlyphs">TS/TOC enhance</text>
<text x="924.7" y="96.4" font-family="'Liberation Serif','Times New Roman',serif" font-size="17" font-weight="bold" font-style="italic" fill="#000" text-anchor="start" textLength="137.3" lengthAdjust="spacingAndGlyphs">low pyitev content</text>
<text x="963.4" y="216.0" font-family="'Liberation Serif','Times New Roman',serif" font-size="16" font-weight="bold" font-style="normal" fill="#000" text-anchor="start" textLength="157.1" lengthAdjust="spacingAndGlyphs">TS increase is associate</text>
<text x="966.9" y="235.8" font-family="'Liberation Serif','Times New Roman',serif" font-size="16" font-weight="bold" font-style="normal" fill="#000" text-anchor="start" textLength="127.1" lengthAdjust="spacingAndGlyphs">with TOC increase</text>
<text x="974.2" y="434.0" font-family="'Liberation Serif','Times New Roman',serif" font-size="26.5" font-weight="bold" font-style="italic" fill="#ec1c24" text-anchor="start" textLength="158.1" lengthAdjust="spacingAndGlyphs">Current SMTZ</text>
<text x="979.6" y="511.6" font-family="'Liberation Serif','Times New Roman',serif" font-size="16" font-weight="bold" font-style="italic" fill="#000" text-anchor="start" textLength="146.7" lengthAdjust="spacingAndGlyphs">AOM generates pyrite</text>
<text x="1162.3" y="406.0" font-family="'Liberation Serif','Times New Roman',serif" font-size="16" font-weight="bold" font-style="italic" fill="#000" text-anchor="start" textLength="174.4" lengthAdjust="spacingAndGlyphs">AOM generates carbonate</text>
<text x="1189.6" y="521.9" font-family="'Liberation Serif','Times New Roman',serif" font-size="16" font-weight="bold" font-style="italic" fill="#000" text-anchor="start" textLength="174.8" lengthAdjust="spacingAndGlyphs">AOM generates carbonate</text>
<text x="1462.8" y="198.6" font-family="'Liberation Serif','Times New Roman',serif" font-size="21" font-weight="bold" font-style="italic" fill="#000" text-anchor="start" textLength="128.0" lengthAdjust="spacingAndGlyphs">OSR dominant</text>
<text x="1572.6" y="85.4" font-family="'Liberation Serif','Times New Roman',serif" font-size="19" font-weight="bold" font-style="italic" fill="#000" text-anchor="start" textLength="149.8" lengthAdjust="spacingAndGlyphs">pyrite reoxidation</text>
<text x="1649.1" y="187.0" font-family="'Liberation Serif','Times New Roman',serif" font-size="16.5" font-weight="bold" font-style="italic" fill="#000" text-anchor="start" textLength="189.4" lengthAdjust="spacingAndGlyphs">sulfate reduction rate slower</text>
<text x="1649.1" y="207.7" font-family="'Liberation Serif','Times New Roman',serif" font-size="16.5" font-weight="bold" font-style="italic" fill="#000" text-anchor="start" textLength="174.6" lengthAdjust="spacingAndGlyphs">than sulfate replenish rate</text>
<text x="1457.0" y="484.2" font-family="'Liberation Serif','Times New Roman',serif" font-size="16.5" font-weight="bold" font-style="italic" fill="#000" text-anchor="start" textLength="184.0" lengthAdjust="spacingAndGlyphs">sulfate reduction rate faster</text>
<text x="1457.0" y="504.9" font-family="'Liberation Serif','Times New Roman',serif" font-size="16.5" font-weight="bold" font-style="italic" fill="#000" text-anchor="start" textLength="174.4" lengthAdjust="spacingAndGlyphs">than sulfate replenish rate</text>
<text x="1726.2" y="502.5" font-family="'Liberation Serif','Times New Roman',serif" font-size="21" font-weight="bold" font-style="italic" fill="#000" text-anchor="start" textLength="120.2" lengthAdjust="spacingAndGlyphs">OSR  &amp; AOM</text></svg>
</body></html>
